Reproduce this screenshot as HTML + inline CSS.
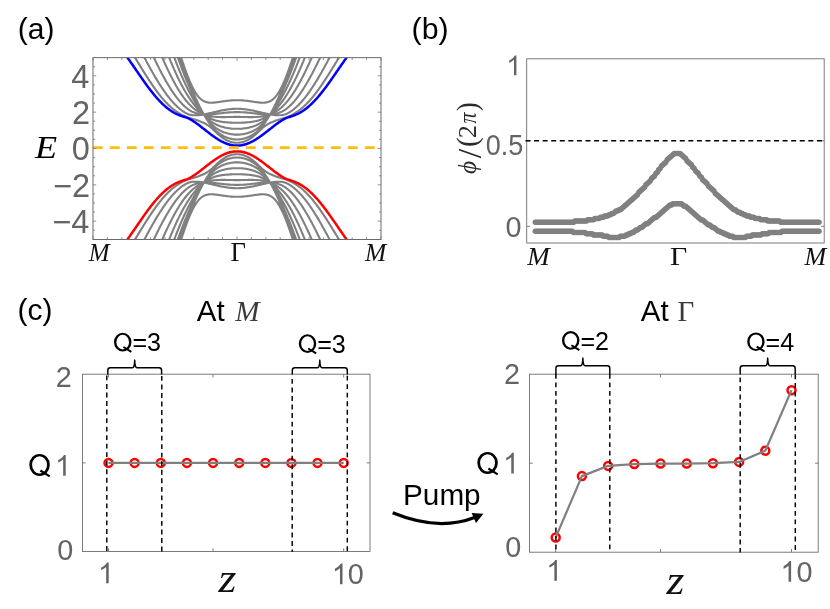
<!DOCTYPE html>
<html><head><meta charset="utf-8"><title>Figure</title>
<style>html,body{margin:0;padding:0;background:#fff;}svg{display:block;will-change:transform;}</style>
</head><body>
<svg width="830" height="609" viewBox="0 0 830 609">
<rect width="830" height="609" fill="#fff"/>
<defs><clipPath id="ca"><rect x="93.0" y="57.65" width="288.0" height="181.85"/></clipPath></defs>
<g clip-path="url(#ca)" fill="none" stroke-linejoin="round">
<path d="M177.6,250.8 L178.2,248.9 L178.8,246.9 L179.4,245.0 L180.0,243.1 L180.6,241.2 L181.2,239.3 L181.8,237.5 L182.4,235.6 L183.0,233.9 L183.6,232.1 L184.2,230.4 L184.8,228.6 L185.4,227.0 L186.0,225.3 L186.6,223.7 L187.2,222.1 L187.8,220.6 L188.4,219.0 L189.0,217.6 L189.6,216.1 L190.2,214.7 L190.8,213.4 L191.4,212.1 L192.0,210.8 L192.6,209.6 L193.2,208.4 L193.8,207.3 L194.4,206.2 L195.0,205.2 L195.6,204.2 L196.2,203.3 L196.8,202.4 L197.4,201.6 L198.0,200.9 L198.6,200.1 L199.2,199.5 L199.8,198.8 L200.4,198.3 L201.0,197.8 L201.6,197.3 L202.2,196.8 L202.8,196.5 L203.4,196.1 L204.0,195.8 L204.6,195.5 L205.2,195.3 L205.8,195.1 L206.4,194.9 L207.0,194.7 L207.6,194.6 L208.2,194.5 L208.8,194.4 L209.4,194.4 L210.0,194.3 L210.6,194.3 L211.2,194.3 L211.8,194.3 L212.4,194.3 L213.0,194.4 L213.6,194.4 L214.2,194.4 L214.8,194.5 L215.4,194.6 L216.0,194.6 L216.6,194.7 L217.2,194.8 L217.8,194.9 L218.4,194.9 L219.0,195.0 L219.6,195.1 L220.2,195.2 L220.8,195.3 L221.4,195.4 L222.0,195.5 L222.6,195.6 L223.2,195.6 L223.8,195.7 L224.4,195.8 L225.0,195.9 L225.6,196.0 L226.2,196.1 L226.8,196.1 L227.4,196.2 L228.0,196.3 L228.6,196.3 L229.2,196.4 L229.8,196.5 L230.4,196.5 L231.0,196.6 L231.6,196.6 L232.2,196.6 L232.8,196.7 L233.4,196.7 L234.0,196.7 L234.6,196.8 L235.2,196.8 L235.8,196.8 L236.4,196.8 L237.0,196.8 L237.6,196.8 L238.2,196.8 L238.8,196.8 L239.4,196.8 L240.0,196.7 L240.6,196.7 L241.2,196.7 L241.8,196.6 L242.4,196.6 L243.0,196.6 L243.6,196.5 L244.2,196.5 L244.8,196.4 L245.4,196.3 L246.0,196.3 L246.6,196.2 L247.2,196.1 L247.8,196.1 L248.4,196.0 L249.0,195.9 L249.6,195.8 L250.2,195.7 L250.8,195.6 L251.4,195.6 L252.0,195.5 L252.6,195.4 L253.2,195.3 L253.8,195.2 L254.4,195.1 L255.0,195.0 L255.6,194.9 L256.2,194.9 L256.8,194.8 L257.4,194.7 L258.0,194.6 L258.6,194.6 L259.2,194.5 L259.8,194.4 L260.4,194.4 L261.0,194.4 L261.6,194.3 L262.2,194.3 L262.8,194.3 L263.4,194.3 L264.0,194.3 L264.6,194.4 L265.2,194.4 L265.8,194.5 L266.4,194.6 L267.0,194.7 L267.6,194.9 L268.2,195.1 L268.8,195.3 L269.4,195.5 L270.0,195.8 L270.6,196.1 L271.2,196.5 L271.8,196.8 L272.4,197.3 L273.0,197.8 L273.6,198.3 L274.2,198.8 L274.8,199.5 L275.4,200.1 L276.0,200.9 L276.6,201.6 L277.2,202.4 L277.8,203.3 L278.4,204.2 L279.0,205.2 L279.6,206.2 L280.2,207.3 L280.8,208.4 L281.4,209.6 L282.0,210.8 L282.6,212.1 L283.2,213.4 L283.8,214.7 L284.4,216.1 L285.0,217.6 L285.6,219.0 L286.2,220.6 L286.8,222.1 L287.4,223.7 L288.0,225.3 L288.6,227.0 L289.2,228.6 L289.8,230.4 L290.4,232.1 L291.0,233.9 L291.6,235.6 L292.2,237.5 L292.8,239.3 L293.4,241.2 L294.0,243.1 L294.6,245.0 L295.2,246.9 L295.8,248.9 L296.4,250.8M176.4,250.9 L177.0,249.0 L177.6,247.1 L178.2,245.2 L178.8,243.4 L179.4,241.6 L180.0,239.7 L180.6,238.0 L181.2,236.2 L181.8,234.4 L182.4,232.7 L183.0,231.0 L183.6,229.3 L184.2,227.6 L184.8,226.0 L185.4,224.3 L186.0,222.7 L186.6,221.1 L187.2,219.5 L187.8,218.0 L188.4,216.4 L189.0,214.9 L189.6,213.4 L190.2,211.9 L190.8,210.4 L191.4,208.9 L192.0,207.5 L192.6,206.0 L193.2,204.6 L193.8,203.2 L194.4,201.8 L195.0,200.5 L195.6,199.1 L196.2,197.8 L196.8,196.5 L197.4,195.2 L198.0,193.9 L198.6,192.7 L199.2,191.4 L199.8,190.2 L200.4,189.0 L201.0,187.9 L201.6,186.7 L202.2,185.6 L202.8,184.5 L203.4,183.4 L204.0,182.6 L204.6,182.7 L205.2,182.8 L205.8,182.9 L206.4,183.1 L207.0,183.2 L207.6,183.3 L208.2,183.5 L208.8,183.6 L209.4,183.7 L210.0,183.9 L210.6,184.0 L211.2,184.1 L211.8,184.3 L212.4,184.4 L213.0,184.6 L213.6,184.7 L214.2,184.9 L214.8,185.0 L215.4,185.1 L216.0,185.3 L216.6,185.4 L217.2,185.6 L217.8,185.7 L218.4,185.8 L219.0,186.0 L219.6,186.1 L220.2,186.2 L220.8,186.4 L221.4,186.5 L222.0,186.6 L222.6,186.7 L223.2,186.8 L223.8,186.9 L224.4,187.0 L225.0,187.1 L225.6,187.2 L226.2,187.3 L226.8,187.4 L227.4,187.5 L228.0,187.6 L228.6,187.7 L229.2,187.7 L229.8,187.8 L230.4,187.9 L231.0,187.9 L231.6,188.0 L232.2,188.0 L232.8,188.1 L233.4,188.1 L234.0,188.1 L234.6,188.1 L235.2,188.2 L235.8,188.2 L236.4,188.2 L237.0,188.2 L237.6,188.2 L238.2,188.2 L238.8,188.2 L239.4,188.1 L240.0,188.1 L240.6,188.1 L241.2,188.1 L241.8,188.0 L242.4,188.0 L243.0,187.9 L243.6,187.9 L244.2,187.8 L244.8,187.7 L245.4,187.7 L246.0,187.6 L246.6,187.5 L247.2,187.4 L247.8,187.3 L248.4,187.2 L249.0,187.1 L249.6,187.0 L250.2,186.9 L250.8,186.8 L251.4,186.7 L252.0,186.6 L252.6,186.5 L253.2,186.4 L253.8,186.2 L254.4,186.1 L255.0,186.0 L255.6,185.8 L256.2,185.7 L256.8,185.6 L257.4,185.4 L258.0,185.3 L258.6,185.1 L259.2,185.0 L259.8,184.9 L260.4,184.7 L261.0,184.6 L261.6,184.4 L262.2,184.3 L262.8,184.1 L263.4,184.0 L264.0,183.9 L264.6,183.7 L265.2,183.6 L265.8,183.5 L266.4,183.3 L267.0,183.2 L267.6,183.1 L268.2,182.9 L268.8,182.8 L269.4,182.7 L270.0,182.6 L270.6,183.4 L271.2,184.5 L271.8,185.6 L272.4,186.7 L273.0,187.9 L273.6,189.0 L274.2,190.2 L274.8,191.4 L275.4,192.7 L276.0,193.9 L276.6,195.2 L277.2,196.5 L277.8,197.8 L278.4,199.1 L279.0,200.5 L279.6,201.8 L280.2,203.2 L280.8,204.6 L281.4,206.0 L282.0,207.5 L282.6,208.9 L283.2,210.4 L283.8,211.9 L284.4,213.4 L285.0,214.9 L285.6,216.4 L286.2,218.0 L286.8,219.5 L287.4,221.1 L288.0,222.7 L288.6,224.3 L289.2,226.0 L289.8,227.6 L290.4,229.3 L291.0,231.0 L291.6,232.7 L292.2,234.4 L292.8,236.2 L293.4,238.0 L294.0,239.7 L294.6,241.6 L295.2,243.4 L295.8,245.2 L296.4,247.1 L297.0,249.0 L297.6,250.9M174.0,250.9 L174.6,249.1 L175.2,247.3 L175.8,245.5 L176.4,243.7 L177.0,242.0 L177.6,240.3 L178.2,238.6 L178.8,236.9 L179.4,235.2 L180.0,233.5 L180.6,231.9 L181.2,230.3 L181.8,228.7 L182.4,227.1 L183.0,225.6 L183.6,224.0 L184.2,222.5 L184.8,221.0 L185.4,219.5 L186.0,218.1 L186.6,216.6 L187.2,215.2 L187.8,213.8 L188.4,212.4 L189.0,211.0 L189.6,209.7 L190.2,208.3 L190.8,207.0 L191.4,205.7 L192.0,204.4 L192.6,203.2 L193.2,201.9 L193.8,200.7 L194.4,199.5 L195.0,198.3 L195.6,197.1 L196.2,195.9 L196.8,194.8 L197.4,193.6 L198.0,192.5 L198.6,191.4 L199.2,190.3 L199.8,189.3 L200.4,188.2 L201.0,187.2 L201.6,186.2 L202.2,185.2 L202.8,184.2 L203.4,183.3 L204.0,182.6 L204.6,182.5 L205.2,182.5 L205.8,182.5 L206.4,182.5 L207.0,182.5 L207.6,182.5 L208.2,182.6 L208.8,182.6 L209.4,182.6 L210.0,182.7 L210.6,182.7 L211.2,182.7 L211.8,182.8 L212.4,182.8 L213.0,182.9 L213.6,183.0 L214.2,183.0 L214.8,183.1 L215.4,183.1 L216.0,183.2 L216.6,183.3 L217.2,183.3 L217.8,183.4 L218.4,183.5 L219.0,183.6 L219.6,183.6 L220.2,183.7 L220.8,183.8 L221.4,183.8 L222.0,183.9 L222.6,184.0 L223.2,184.0 L223.8,184.1 L224.4,184.2 L225.0,184.2 L225.6,184.3 L226.2,184.4 L226.8,184.4 L227.4,184.5 L228.0,184.5 L228.6,184.6 L229.2,184.6 L229.8,184.6 L230.4,184.7 L231.0,184.7 L231.6,184.8 L232.2,184.8 L232.8,184.8 L233.4,184.8 L234.0,184.9 L234.6,184.9 L235.2,184.9 L235.8,184.9 L236.4,184.9 L237.0,184.9 L237.6,184.9 L238.2,184.9 L238.8,184.9 L239.4,184.9 L240.0,184.9 L240.6,184.8 L241.2,184.8 L241.8,184.8 L242.4,184.8 L243.0,184.7 L243.6,184.7 L244.2,184.6 L244.8,184.6 L245.4,184.6 L246.0,184.5 L246.6,184.5 L247.2,184.4 L247.8,184.4 L248.4,184.3 L249.0,184.2 L249.6,184.2 L250.2,184.1 L250.8,184.0 L251.4,184.0 L252.0,183.9 L252.6,183.8 L253.2,183.8 L253.8,183.7 L254.4,183.6 L255.0,183.6 L255.6,183.5 L256.2,183.4 L256.8,183.3 L257.4,183.3 L258.0,183.2 L258.6,183.1 L259.2,183.1 L259.8,183.0 L260.4,183.0 L261.0,182.9 L261.6,182.8 L262.2,182.8 L262.8,182.7 L263.4,182.7 L264.0,182.7 L264.6,182.6 L265.2,182.6 L265.8,182.6 L266.4,182.5 L267.0,182.5 L267.6,182.5 L268.2,182.5 L268.8,182.5 L269.4,182.5 L270.0,182.6 L270.6,183.3 L271.2,184.2 L271.8,185.2 L272.4,186.2 L273.0,187.2 L273.6,188.2 L274.2,189.3 L274.8,190.3 L275.4,191.4 L276.0,192.5 L276.6,193.6 L277.2,194.8 L277.8,195.9 L278.4,197.1 L279.0,198.3 L279.6,199.5 L280.2,200.7 L280.8,201.9 L281.4,203.2 L282.0,204.4 L282.6,205.7 L283.2,207.0 L283.8,208.3 L284.4,209.7 L285.0,211.0 L285.6,212.4 L286.2,213.8 L286.8,215.2 L287.4,216.6 L288.0,218.1 L288.6,219.5 L289.2,221.0 L289.8,222.5 L290.4,224.0 L291.0,225.6 L291.6,227.1 L292.2,228.7 L292.8,230.3 L293.4,231.9 L294.0,233.5 L294.6,235.2 L295.2,236.9 L295.8,238.6 L296.4,240.3 L297.0,242.0 L297.6,243.7 L298.2,245.5 L298.8,247.3 L299.4,249.1 L300.0,250.9M170.4,250.3 L171.0,248.6 L171.6,246.9 L172.2,245.2 L172.8,243.5 L173.4,241.9 L174.0,240.3 L174.6,238.7 L175.2,237.1 L175.8,235.5 L176.4,234.0 L177.0,232.4 L177.6,230.9 L178.2,229.4 L178.8,228.0 L179.4,226.5 L180.0,225.0 L180.6,223.6 L181.2,222.2 L181.8,220.8 L182.4,219.5 L183.0,218.1 L183.6,216.8 L184.2,215.5 L184.8,214.2 L185.4,212.9 L186.0,211.7 L186.6,210.4 L187.2,209.2 L187.8,208.0 L188.4,206.8 L189.0,205.7 L189.6,204.5 L190.2,203.4 L190.8,202.3 L191.4,201.2 L192.0,200.2 L192.6,199.1 L193.2,198.1 L193.8,197.1 L194.4,196.1 L195.0,195.1 L195.6,194.1 L196.2,193.2 L196.8,192.2 L197.4,191.3 L198.0,190.4 L198.6,189.6 L199.2,188.7 L199.8,187.8 L200.4,187.0 L201.0,186.2 L201.6,185.4 L202.2,184.6 L202.8,183.9 L203.4,183.1 L204.0,182.5 L204.6,182.3 L205.2,182.1 L205.8,181.9 L206.4,181.7 L207.0,181.5 L207.6,181.4 L208.2,181.2 L208.8,181.1 L209.4,181.0 L210.0,180.8 L210.6,180.7 L211.2,180.6 L211.8,180.5 L212.4,180.5 L213.0,180.4 L213.6,180.3 L214.2,180.3 L214.8,180.2 L215.4,180.2 L216.0,180.1 L216.6,180.1 L217.2,180.0 L217.8,180.0 L218.4,180.0 L219.0,180.0 L219.6,180.0 L220.2,180.0 L220.8,179.9 L221.4,179.9 L222.0,179.9 L222.6,179.9 L223.2,179.9 L223.8,179.9 L224.4,179.9 L225.0,179.9 L225.6,179.9 L226.2,180.0 L226.8,180.0 L227.4,180.0 L228.0,180.0 L228.6,180.0 L229.2,180.0 L229.8,180.0 L230.4,180.0 L231.0,180.0 L231.6,180.0 L232.2,180.0 L232.8,180.0 L233.4,180.0 L234.0,180.1 L234.6,180.1 L235.2,180.1 L235.8,180.1 L236.4,180.1 L237.0,180.1 L237.6,180.1 L238.2,180.1 L238.8,180.1 L239.4,180.1 L240.0,180.1 L240.6,180.0 L241.2,180.0 L241.8,180.0 L242.4,180.0 L243.0,180.0 L243.6,180.0 L244.2,180.0 L244.8,180.0 L245.4,180.0 L246.0,180.0 L246.6,180.0 L247.2,180.0 L247.8,180.0 L248.4,179.9 L249.0,179.9 L249.6,179.9 L250.2,179.9 L250.8,179.9 L251.4,179.9 L252.0,179.9 L252.6,179.9 L253.2,179.9 L253.8,180.0 L254.4,180.0 L255.0,180.0 L255.6,180.0 L256.2,180.0 L256.8,180.0 L257.4,180.1 L258.0,180.1 L258.6,180.2 L259.2,180.2 L259.8,180.3 L260.4,180.3 L261.0,180.4 L261.6,180.5 L262.2,180.5 L262.8,180.6 L263.4,180.7 L264.0,180.8 L264.6,181.0 L265.2,181.1 L265.8,181.2 L266.4,181.4 L267.0,181.5 L267.6,181.7 L268.2,181.9 L268.8,182.1 L269.4,182.3 L270.0,182.5 L270.6,183.1 L271.2,183.9 L271.8,184.6 L272.4,185.4 L273.0,186.2 L273.6,187.0 L274.2,187.8 L274.8,188.7 L275.4,189.6 L276.0,190.4 L276.6,191.3 L277.2,192.2 L277.8,193.2 L278.4,194.1 L279.0,195.1 L279.6,196.1 L280.2,197.1 L280.8,198.1 L281.4,199.1 L282.0,200.2 L282.6,201.2 L283.2,202.3 L283.8,203.4 L284.4,204.5 L285.0,205.7 L285.6,206.8 L286.2,208.0 L286.8,209.2 L287.4,210.4 L288.0,211.7 L288.6,212.9 L289.2,214.2 L289.8,215.5 L290.4,216.8 L291.0,218.1 L291.6,219.5 L292.2,220.8 L292.8,222.2 L293.4,223.6 L294.0,225.0 L294.6,226.5 L295.2,228.0 L295.8,229.4 L296.4,230.9 L297.0,232.4 L297.6,234.0 L298.2,235.5 L298.8,237.1 L299.4,238.7 L300.0,240.3 L300.6,241.9 L301.2,243.5 L301.8,245.2 L302.4,246.9 L303.0,248.6 L303.6,250.3M165.0,250.1 L165.6,248.5 L166.2,246.9 L166.8,245.4 L167.4,243.8 L168.0,242.3 L168.6,240.8 L169.2,239.3 L169.8,237.8 L170.4,236.4 L171.0,234.9 L171.6,233.5 L172.2,232.1 L172.8,230.7 L173.4,229.3 L174.0,227.9 L174.6,226.6 L175.2,225.2 L175.8,223.9 L176.4,222.6 L177.0,221.3 L177.6,220.0 L178.2,218.8 L178.8,217.6 L179.4,216.3 L180.0,215.1 L180.6,214.0 L181.2,212.8 L181.8,211.7 L182.4,210.5 L183.0,209.4 L183.6,208.4 L184.2,207.3 L184.8,206.2 L185.4,205.2 L186.0,204.2 L186.6,203.2 L187.2,202.2 L187.8,201.3 L188.4,200.4 L189.0,199.4 L189.6,198.6 L190.2,197.7 L190.8,196.8 L191.4,196.0 L192.0,195.2 L192.6,194.4 L193.2,193.6 L193.8,192.8 L194.4,192.1 L195.0,191.4 L195.6,190.7 L196.2,190.0 L196.8,189.3 L197.4,188.6 L198.0,188.0 L198.6,187.4 L199.2,186.8 L199.8,186.2 L200.4,185.6 L201.0,185.0 L201.6,184.5 L202.2,184.0 L202.8,183.4 L203.4,182.9 L204.0,182.5 L204.6,182.0 L205.2,181.6 L205.8,181.1 L206.4,180.7 L207.0,180.3 L207.6,180.0 L208.2,179.6 L208.8,179.3 L209.4,179.0 L210.0,178.7 L210.6,178.4 L211.2,178.1 L211.8,177.9 L212.4,177.6 L213.0,177.4 L213.6,177.2 L214.2,177.0 L214.8,176.8 L215.4,176.6 L216.0,176.4 L216.6,176.3 L217.2,176.1 L217.8,176.0 L218.4,175.8 L219.0,175.7 L219.6,175.6 L220.2,175.5 L220.8,175.4 L221.4,175.3 L222.0,175.2 L222.6,175.1 L223.2,175.0 L223.8,174.9 L224.4,174.9 L225.0,174.8 L225.6,174.8 L226.2,174.7 L226.8,174.6 L227.4,174.6 L228.0,174.6 L228.6,174.5 L229.2,174.5 L229.8,174.4 L230.4,174.4 L231.0,174.4 L231.6,174.4 L232.2,174.3 L232.8,174.3 L233.4,174.3 L234.0,174.3 L234.6,174.3 L235.2,174.3 L235.8,174.3 L236.4,174.3 L237.0,174.3 L237.6,174.3 L238.2,174.3 L238.8,174.3 L239.4,174.3 L240.0,174.3 L240.6,174.3 L241.2,174.3 L241.8,174.3 L242.4,174.4 L243.0,174.4 L243.6,174.4 L244.2,174.4 L244.8,174.5 L245.4,174.5 L246.0,174.6 L246.6,174.6 L247.2,174.6 L247.8,174.7 L248.4,174.8 L249.0,174.8 L249.6,174.9 L250.2,174.9 L250.8,175.0 L251.4,175.1 L252.0,175.2 L252.6,175.3 L253.2,175.4 L253.8,175.5 L254.4,175.6 L255.0,175.7 L255.6,175.8 L256.2,176.0 L256.8,176.1 L257.4,176.3 L258.0,176.4 L258.6,176.6 L259.2,176.8 L259.8,177.0 L260.4,177.2 L261.0,177.4 L261.6,177.6 L262.2,177.9 L262.8,178.1 L263.4,178.4 L264.0,178.7 L264.6,179.0 L265.2,179.3 L265.8,179.6 L266.4,180.0 L267.0,180.3 L267.6,180.7 L268.2,181.1 L268.8,181.6 L269.4,182.0 L270.0,182.5 L270.6,182.9 L271.2,183.4 L271.8,184.0 L272.4,184.5 L273.0,185.0 L273.6,185.6 L274.2,186.2 L274.8,186.8 L275.4,187.4 L276.0,188.0 L276.6,188.6 L277.2,189.3 L277.8,190.0 L278.4,190.7 L279.0,191.4 L279.6,192.1 L280.2,192.8 L280.8,193.6 L281.4,194.4 L282.0,195.2 L282.6,196.0 L283.2,196.8 L283.8,197.7 L284.4,198.6 L285.0,199.4 L285.6,200.4 L286.2,201.3 L286.8,202.2 L287.4,203.2 L288.0,204.2 L288.6,205.2 L289.2,206.2 L289.8,207.3 L290.4,208.4 L291.0,209.4 L291.6,210.5 L292.2,211.7 L292.8,212.8 L293.4,214.0 L294.0,215.1 L294.6,216.3 L295.2,217.6 L295.8,218.8 L296.4,220.0 L297.0,221.3 L297.6,222.6 L298.2,223.9 L298.8,225.2 L299.4,226.6 L300.0,227.9 L300.6,229.3 L301.2,230.7 L301.8,232.1 L302.4,233.5 L303.0,234.9 L303.6,236.4 L304.2,237.8 L304.8,239.3 L305.4,240.8 L306.0,242.3 L306.6,243.8 L307.2,245.4 L307.8,246.9 L308.4,248.5 L309.0,250.1M157.2,251.5 L157.8,250.0 L158.4,248.6 L159.0,247.1 L159.6,245.7 L160.2,244.3 L160.8,242.9 L161.4,241.5 L162.0,240.1 L162.6,238.7 L163.2,237.3 L163.8,236.0 L164.4,234.6 L165.0,233.3 L165.6,232.0 L166.2,230.7 L166.8,229.4 L167.4,228.1 L168.0,226.9 L168.6,225.6 L169.2,224.4 L169.8,223.2 L170.4,222.0 L171.0,220.8 L171.6,219.6 L172.2,218.4 L172.8,217.3 L173.4,216.2 L174.0,215.1 L174.6,214.0 L175.2,212.9 L175.8,211.8 L176.4,210.8 L177.0,209.8 L177.6,208.7 L178.2,207.8 L178.8,206.8 L179.4,205.8 L180.0,204.9 L180.6,204.0 L181.2,203.1 L181.8,202.2 L182.4,201.3 L183.0,200.5 L183.6,199.6 L184.2,198.8 L184.8,198.0 L185.4,197.3 L186.0,196.5 L186.6,195.8 L187.2,195.1 L187.8,194.4 L188.4,193.7 L189.0,193.0 L189.6,192.4 L190.2,191.8 L190.8,191.2 L191.4,190.6 L192.0,190.1 L192.6,189.5 L193.2,189.0 L193.8,188.5 L194.4,188.0 L195.0,187.6 L195.6,187.1 L196.2,186.7 L196.8,186.3 L197.4,185.9 L198.0,185.5 L198.6,185.1 L199.2,184.8 L199.8,184.5 L200.4,184.1 L201.0,183.8 L201.6,183.5 L202.2,183.3 L202.8,183.0 L203.4,182.8 L204.0,182.4 L204.6,181.7 L205.2,181.0 L205.8,180.4 L206.4,179.8 L207.0,179.1 L207.6,178.6 L208.2,178.0 L208.8,177.4 L209.4,176.9 L210.0,176.4 L210.6,176.0 L211.2,175.5 L211.8,175.1 L212.4,174.7 L213.0,174.3 L213.6,173.9 L214.2,173.5 L214.8,173.2 L215.4,172.9 L216.0,172.6 L216.6,172.3 L217.2,172.0 L217.8,171.7 L218.4,171.5 L219.0,171.2 L219.6,171.0 L220.2,170.8 L220.8,170.6 L221.4,170.4 L222.0,170.2 L222.6,170.0 L223.2,169.9 L223.8,169.7 L224.4,169.6 L225.0,169.4 L225.6,169.3 L226.2,169.2 L226.8,169.0 L227.4,168.9 L228.0,168.8 L228.6,168.8 L229.2,168.7 L229.8,168.6 L230.4,168.5 L231.0,168.5 L231.6,168.4 L232.2,168.3 L232.8,168.3 L233.4,168.3 L234.0,168.2 L234.6,168.2 L235.2,168.2 L235.8,168.2 L236.4,168.2 L237.0,168.2 L237.6,168.2 L238.2,168.2 L238.8,168.2 L239.4,168.2 L240.0,168.2 L240.6,168.3 L241.2,168.3 L241.8,168.3 L242.4,168.4 L243.0,168.5 L243.6,168.5 L244.2,168.6 L244.8,168.7 L245.4,168.8 L246.0,168.8 L246.6,168.9 L247.2,169.0 L247.8,169.2 L248.4,169.3 L249.0,169.4 L249.6,169.6 L250.2,169.7 L250.8,169.9 L251.4,170.0 L252.0,170.2 L252.6,170.4 L253.2,170.6 L253.8,170.8 L254.4,171.0 L255.0,171.2 L255.6,171.5 L256.2,171.7 L256.8,172.0 L257.4,172.3 L258.0,172.6 L258.6,172.9 L259.2,173.2 L259.8,173.5 L260.4,173.9 L261.0,174.3 L261.6,174.7 L262.2,175.1 L262.8,175.5 L263.4,176.0 L264.0,176.4 L264.6,176.9 L265.2,177.4 L265.8,178.0 L266.4,178.6 L267.0,179.1 L267.6,179.8 L268.2,180.4 L268.8,181.0 L269.4,181.7 L270.0,182.4 L270.6,182.8 L271.2,183.0 L271.8,183.3 L272.4,183.5 L273.0,183.8 L273.6,184.1 L274.2,184.5 L274.8,184.8 L275.4,185.1 L276.0,185.5 L276.6,185.9 L277.2,186.3 L277.8,186.7 L278.4,187.1 L279.0,187.6 L279.6,188.0 L280.2,188.5 L280.8,189.0 L281.4,189.5 L282.0,190.1 L282.6,190.6 L283.2,191.2 L283.8,191.8 L284.4,192.4 L285.0,193.0 L285.6,193.7 L286.2,194.4 L286.8,195.1 L287.4,195.8 L288.0,196.5 L288.6,197.3 L289.2,198.0 L289.8,198.8 L290.4,199.6 L291.0,200.5 L291.6,201.3 L292.2,202.2 L292.8,203.1 L293.4,204.0 L294.0,204.9 L294.6,205.8 L295.2,206.8 L295.8,207.8 L296.4,208.7 L297.0,209.8 L297.6,210.8 L298.2,211.8 L298.8,212.9 L299.4,214.0 L300.0,215.1 L300.6,216.2 L301.2,217.3 L301.8,218.4 L302.4,219.6 L303.0,220.8 L303.6,222.0 L304.2,223.2 L304.8,224.4 L305.4,225.6 L306.0,226.9 L306.6,228.1 L307.2,229.4 L307.8,230.7 L308.4,232.0 L309.0,233.3 L309.6,234.6 L310.2,236.0 L310.8,237.3 L311.4,238.7 L312.0,240.1 L312.6,241.5 L313.2,242.9 L313.8,244.3 L314.4,245.7 L315.0,247.1 L315.6,248.6 L316.2,250.0 L316.8,251.5M148.8,250.3 L149.4,249.0 L150.0,247.7 L150.6,246.4 L151.2,245.1 L151.8,243.8 L152.4,242.5 L153.0,241.2 L153.6,240.0 L154.2,238.7 L154.8,237.5 L155.4,236.2 L156.0,235.0 L156.6,233.7 L157.2,232.5 L157.8,231.3 L158.4,230.1 L159.0,228.9 L159.6,227.7 L160.2,226.6 L160.8,225.4 L161.4,224.3 L162.0,223.1 L162.6,222.0 L163.2,220.9 L163.8,219.8 L164.4,218.7 L165.0,217.6 L165.6,216.6 L166.2,215.5 L166.8,214.5 L167.4,213.5 L168.0,212.5 L168.6,211.5 L169.2,210.5 L169.8,209.5 L170.4,208.6 L171.0,207.6 L171.6,206.7 L172.2,205.8 L172.8,204.9 L173.4,204.0 L174.0,203.2 L174.6,202.3 L175.2,201.5 L175.8,200.7 L176.4,199.9 L177.0,199.1 L177.6,198.3 L178.2,197.6 L178.8,196.9 L179.4,196.1 L180.0,195.4 L180.6,194.8 L181.2,194.1 L181.8,193.5 L182.4,192.8 L183.0,192.2 L183.6,191.6 L184.2,191.1 L184.8,190.5 L185.4,190.0 L186.0,189.5 L186.6,189.0 L187.2,188.5 L187.8,188.0 L188.4,187.6 L189.0,187.2 L189.6,186.8 L190.2,186.4 L190.8,186.1 L191.4,185.7 L192.0,185.4 L192.6,185.1 L193.2,184.9 L193.8,184.6 L194.4,184.4 L195.0,184.2 L195.6,184.0 L196.2,183.8 L196.8,183.6 L197.4,183.4 L198.0,183.3 L198.6,183.2 L199.2,183.1 L199.8,183.0 L200.4,182.9 L201.0,182.8 L201.6,182.7 L202.2,182.7 L202.8,182.6 L203.4,182.6 L204.0,182.4 L204.6,181.5 L205.2,180.6 L205.8,179.7 L206.4,178.9 L207.0,178.1 L207.6,177.3 L208.2,176.5 L208.8,175.8 L209.4,175.1 L210.0,174.4 L210.6,173.8 L211.2,173.1 L211.8,172.5 L212.4,172.0 L213.0,171.4 L213.6,170.9 L214.2,170.4 L214.8,169.9 L215.4,169.5 L216.0,169.0 L216.6,168.6 L217.2,168.2 L217.8,167.8 L218.4,167.5 L219.0,167.1 L219.6,166.8 L220.2,166.4 L220.8,166.1 L221.4,165.8 L222.0,165.6 L222.6,165.3 L223.2,165.0 L223.8,164.8 L224.4,164.6 L225.0,164.4 L225.6,164.2 L226.2,164.0 L226.8,163.8 L227.4,163.6 L228.0,163.5 L228.6,163.3 L229.2,163.2 L229.8,163.1 L230.4,162.9 L231.0,162.8 L231.6,162.8 L232.2,162.7 L232.8,162.6 L233.4,162.5 L234.0,162.5 L234.6,162.4 L235.2,162.4 L235.8,162.4 L236.4,162.4 L237.0,162.4 L237.6,162.4 L238.2,162.4 L238.8,162.4 L239.4,162.4 L240.0,162.5 L240.6,162.5 L241.2,162.6 L241.8,162.7 L242.4,162.8 L243.0,162.8 L243.6,162.9 L244.2,163.1 L244.8,163.2 L245.4,163.3 L246.0,163.5 L246.6,163.6 L247.2,163.8 L247.8,164.0 L248.4,164.2 L249.0,164.4 L249.6,164.6 L250.2,164.8 L250.8,165.0 L251.4,165.3 L252.0,165.6 L252.6,165.8 L253.2,166.1 L253.8,166.4 L254.4,166.8 L255.0,167.1 L255.6,167.5 L256.2,167.8 L256.8,168.2 L257.4,168.6 L258.0,169.0 L258.6,169.5 L259.2,169.9 L259.8,170.4 L260.4,170.9 L261.0,171.4 L261.6,172.0 L262.2,172.5 L262.8,173.1 L263.4,173.8 L264.0,174.4 L264.6,175.1 L265.2,175.8 L265.8,176.5 L266.4,177.3 L267.0,178.1 L267.6,178.9 L268.2,179.7 L268.8,180.6 L269.4,181.5 L270.0,182.4 L270.6,182.6 L271.2,182.6 L271.8,182.7 L272.4,182.7 L273.0,182.8 L273.6,182.9 L274.2,183.0 L274.8,183.1 L275.4,183.2 L276.0,183.3 L276.6,183.4 L277.2,183.6 L277.8,183.8 L278.4,184.0 L279.0,184.2 L279.6,184.4 L280.2,184.6 L280.8,184.9 L281.4,185.1 L282.0,185.4 L282.6,185.7 L283.2,186.1 L283.8,186.4 L284.4,186.8 L285.0,187.2 L285.6,187.6 L286.2,188.0 L286.8,188.5 L287.4,189.0 L288.0,189.5 L288.6,190.0 L289.2,190.5 L289.8,191.1 L290.4,191.6 L291.0,192.2 L291.6,192.8 L292.2,193.5 L292.8,194.1 L293.4,194.8 L294.0,195.4 L294.6,196.1 L295.2,196.9 L295.8,197.6 L296.4,198.3 L297.0,199.1 L297.6,199.9 L298.2,200.7 L298.8,201.5 L299.4,202.3 L300.0,203.2 L300.6,204.0 L301.2,204.9 L301.8,205.8 L302.4,206.7 L303.0,207.6 L303.6,208.6 L304.2,209.5 L304.8,210.5 L305.4,211.5 L306.0,212.5 L306.6,213.5 L307.2,214.5 L307.8,215.5 L308.4,216.6 L309.0,217.6 L309.6,218.7 L310.2,219.8 L310.8,220.9 L311.4,222.0 L312.0,223.1 L312.6,224.3 L313.2,225.4 L313.8,226.6 L314.4,227.7 L315.0,228.9 L315.6,230.1 L316.2,231.3 L316.8,232.5 L317.4,233.7 L318.0,235.0 L318.6,236.2 L319.2,237.5 L319.8,238.7 L320.4,240.0 L321.0,241.2 L321.6,242.5 L322.2,243.8 L322.8,245.1 L323.4,246.4 L324.0,247.7 L324.6,249.0 L325.2,250.3M138.6,250.4 L139.2,249.3 L139.8,248.2 L140.4,247.0 L141.0,245.9 L141.6,244.8 L142.2,243.6 L142.8,242.5 L143.4,241.4 L144.0,240.2 L144.6,239.1 L145.2,238.0 L145.8,236.9 L146.4,235.7 L147.0,234.6 L147.6,233.5 L148.2,232.4 L148.8,231.3 L149.4,230.2 L150.0,229.1 L150.6,228.0 L151.2,227.0 L151.8,225.9 L152.4,224.8 L153.0,223.8 L153.6,222.7 L154.2,221.7 L154.8,220.7 L155.4,219.6 L156.0,218.6 L156.6,217.6 L157.2,216.6 L157.8,215.7 L158.4,214.7 L159.0,213.7 L159.6,212.8 L160.2,211.8 L160.8,210.9 L161.4,210.0 L162.0,209.1 L162.6,208.2 L163.2,207.3 L163.8,206.4 L164.4,205.6 L165.0,204.7 L165.6,203.9 L166.2,203.1 L166.8,202.2 L167.4,201.4 L168.0,200.7 L168.6,199.9 L169.2,199.1 L169.8,198.4 L170.4,197.7 L171.0,197.0 L171.6,196.2 L172.2,195.6 L172.8,194.9 L173.4,194.2 L174.0,193.6 L174.6,193.0 L175.2,192.3 L175.8,191.7 L176.4,191.2 L177.0,190.6 L177.6,190.0 L178.2,189.5 L178.8,189.0 L179.4,188.4 L180.0,187.9 L180.6,187.5 L181.2,187.0 L181.8,186.5 L182.4,186.1 L183.0,185.7 L183.6,185.3 L184.2,184.9 L184.8,184.5 L185.4,184.2 L186.0,183.9 L186.6,183.6 L187.2,183.3 L187.8,183.1 L188.4,182.8 L189.0,182.6 L189.6,182.4 L190.2,182.3 L190.8,182.1 L191.4,182.0 L192.0,181.9 L192.6,181.8 L193.2,181.8 L193.8,181.7 L194.4,181.7 L195.0,181.7 L195.6,181.7 L196.2,181.7 L196.8,181.7 L197.4,181.7 L198.0,181.8 L198.6,181.8 L199.2,181.9 L199.8,182.0 L200.4,182.0 L201.0,182.1 L201.6,182.2 L202.2,182.3 L202.8,182.4 L203.4,182.5 L204.0,182.3 L204.6,181.3 L205.2,180.3 L205.8,179.3 L206.4,178.3 L207.0,177.4 L207.6,176.5 L208.2,175.6 L208.8,174.7 L209.4,173.8 L210.0,173.0 L210.6,172.2 L211.2,171.4 L211.8,170.7 L212.4,170.0 L213.0,169.3 L213.6,168.6 L214.2,168.0 L214.8,167.4 L215.4,166.8 L216.0,166.3 L216.6,165.8 L217.2,165.3 L217.8,164.8 L218.4,164.3 L219.0,163.9 L219.6,163.4 L220.2,163.0 L220.8,162.6 L221.4,162.2 L222.0,161.9 L222.6,161.5 L223.2,161.2 L223.8,160.8 L224.4,160.5 L225.0,160.3 L225.6,160.0 L226.2,159.7 L226.8,159.5 L227.4,159.2 L228.0,159.0 L228.6,158.8 L229.2,158.7 L229.8,158.5 L230.4,158.3 L231.0,158.2 L231.6,158.1 L232.2,157.9 L232.8,157.8 L233.4,157.8 L234.0,157.7 L234.6,157.6 L235.2,157.6 L235.8,157.5 L236.4,157.5 L237.0,157.5 L237.6,157.5 L238.2,157.5 L238.8,157.6 L239.4,157.6 L240.0,157.7 L240.6,157.8 L241.2,157.8 L241.8,157.9 L242.4,158.1 L243.0,158.2 L243.6,158.3 L244.2,158.5 L244.8,158.7 L245.4,158.8 L246.0,159.0 L246.6,159.2 L247.2,159.5 L247.8,159.7 L248.4,160.0 L249.0,160.3 L249.6,160.5 L250.2,160.8 L250.8,161.2 L251.4,161.5 L252.0,161.9 L252.6,162.2 L253.2,162.6 L253.8,163.0 L254.4,163.4 L255.0,163.9 L255.6,164.3 L256.2,164.8 L256.8,165.3 L257.4,165.8 L258.0,166.3 L258.6,166.8 L259.2,167.4 L259.8,168.0 L260.4,168.6 L261.0,169.3 L261.6,170.0 L262.2,170.7 L262.8,171.4 L263.4,172.2 L264.0,173.0 L264.6,173.8 L265.2,174.7 L265.8,175.6 L266.4,176.5 L267.0,177.4 L267.6,178.3 L268.2,179.3 L268.8,180.3 L269.4,181.3 L270.0,182.3 L270.6,182.5 L271.2,182.4 L271.8,182.3 L272.4,182.2 L273.0,182.1 L273.6,182.0 L274.2,182.0 L274.8,181.9 L275.4,181.8 L276.0,181.8 L276.6,181.7 L277.2,181.7 L277.8,181.7 L278.4,181.7 L279.0,181.7 L279.6,181.7 L280.2,181.7 L280.8,181.8 L281.4,181.8 L282.0,181.9 L282.6,182.0 L283.2,182.1 L283.8,182.3 L284.4,182.4 L285.0,182.6 L285.6,182.8 L286.2,183.1 L286.8,183.3 L287.4,183.6 L288.0,183.9 L288.6,184.2 L289.2,184.5 L289.8,184.9 L290.4,185.3 L291.0,185.7 L291.6,186.1 L292.2,186.5 L292.8,187.0 L293.4,187.5 L294.0,187.9 L294.6,188.4 L295.2,189.0 L295.8,189.5 L296.4,190.0 L297.0,190.6 L297.6,191.2 L298.2,191.7 L298.8,192.3 L299.4,193.0 L300.0,193.6 L300.6,194.2 L301.2,194.9 L301.8,195.6 L302.4,196.2 L303.0,197.0 L303.6,197.7 L304.2,198.4 L304.8,199.1 L305.4,199.9 L306.0,200.7 L306.6,201.4 L307.2,202.2 L307.8,203.1 L308.4,203.9 L309.0,204.7 L309.6,205.6 L310.2,206.4 L310.8,207.3 L311.4,208.2 L312.0,209.1 L312.6,210.0 L313.2,210.9 L313.8,211.8 L314.4,212.8 L315.0,213.7 L315.6,214.7 L316.2,215.7 L316.8,216.6 L317.4,217.6 L318.0,218.6 L318.6,219.6 L319.2,220.7 L319.8,221.7 L320.4,222.7 L321.0,223.8 L321.6,224.8 L322.2,225.9 L322.8,227.0 L323.4,228.0 L324.0,229.1 L324.6,230.2 L325.2,231.3 L325.8,232.4 L326.4,233.5 L327.0,234.6 L327.6,235.7 L328.2,236.9 L328.8,238.0 L329.4,239.1 L330.0,240.2 L330.6,241.4 L331.2,242.5 L331.8,243.6 L332.4,244.8 L333.0,245.9 L333.6,247.0 L334.2,248.2 L334.8,249.3 L335.4,250.4M127.8,250.8 L128.4,249.9 L129.0,249.0 L129.6,248.1 L130.2,247.1 L130.8,246.2 L131.4,245.2 L132.0,244.3 L132.6,243.3 L133.2,242.3 L133.8,241.4 L134.4,240.4 L135.0,239.4 L135.6,238.5 L136.2,237.5 L136.8,236.5 L137.4,235.5 L138.0,234.6 L138.6,233.6 L139.2,232.6 L139.8,231.6 L140.4,230.6 L141.0,229.7 L141.6,228.7 L142.2,227.7 L142.8,226.8 L143.4,225.8 L144.0,224.8 L144.6,223.9 L145.2,222.9 L145.8,222.0 L146.4,221.0 L147.0,220.1 L147.6,219.2 L148.2,218.2 L148.8,217.3 L149.4,216.4 L150.0,215.5 L150.6,214.6 L151.2,213.7 L151.8,212.8 L152.4,211.9 L153.0,211.0 L153.6,210.2 L154.2,209.3 L154.8,208.5 L155.4,207.6 L156.0,206.8 L156.6,206.0 L157.2,205.2 L157.8,204.4 L158.4,203.6 L159.0,202.8 L159.6,202.1 L160.2,201.3 L160.8,200.6 L161.4,199.8 L162.0,199.1 L162.6,198.4 L163.2,197.7 L163.8,197.0 L164.4,196.4 L165.0,195.7 L165.6,195.1 L166.2,194.4 L166.8,193.8 L167.4,193.2 L168.0,192.6 L168.6,192.0 L169.2,191.4 L169.8,190.9 L170.4,190.3 L171.0,189.8 L171.6,189.3 L172.2,188.8 L172.8,188.3 L173.4,187.8 L174.0,187.3 L174.6,186.9 L175.2,186.4 L175.8,186.0 L176.4,185.6 L177.0,185.2 L177.6,184.8 L178.2,184.4 L178.8,184.0 L179.4,183.6 L180.0,183.3 L180.6,182.9 L181.2,182.6 L181.8,182.3 L182.4,182.0 L183.0,181.6 L183.6,181.3 L184.2,181.0 L184.8,180.7 L185.4,180.5 L186.0,180.2 L186.6,179.9 L187.2,179.7 L187.8,179.4 L188.4,179.2 L189.0,179.1 L189.6,178.9 L190.2,178.7 L190.8,178.6 L191.4,178.4 L192.0,178.2 L192.6,178.1 L193.2,177.9 L193.8,177.7 L194.4,177.6 L195.0,177.4 L195.6,177.2 L196.2,177.0 L196.8,176.8 L197.4,176.7 L198.0,176.5 L198.6,176.3 L199.2,176.0 L199.8,175.8 L200.4,175.6 L201.0,175.3 L201.6,175.1 L202.2,174.8 L202.8,174.6 L203.4,174.3 L204.0,174.0 L204.6,173.7 L205.2,173.4 L205.8,173.0 L206.4,172.7 L207.0,172.3 L207.6,171.9 L208.2,171.5 L208.8,171.1 L209.4,170.6 L210.0,170.2 L210.6,169.7 L211.2,169.2 L211.8,168.7 L212.4,168.2 L213.0,167.6 L213.6,167.1 L214.2,166.5 L214.8,165.9 L215.4,165.3 L216.0,164.8 L216.6,164.2 L217.2,163.6 L217.8,163.1 L218.4,162.5 L219.0,162.0 L219.6,161.5 L220.2,161.0 L220.8,160.5 L221.4,160.0 L222.0,159.6 L222.6,159.2 L223.2,158.8 L223.8,158.4 L224.4,158.0 L225.0,157.6 L225.6,157.3 L226.2,157.0 L226.8,156.7 L227.4,156.4 L228.0,156.1 L228.6,155.9 L229.2,155.7 L229.8,155.4 L230.4,155.3 L231.0,155.1 L231.6,154.9 L232.2,154.8 L232.8,154.6 L233.4,154.5 L234.0,154.4 L234.6,154.4 L235.2,154.3 L235.8,154.3 L236.4,154.2 L237.0,154.2 L237.6,154.2 L238.2,154.3 L238.8,154.3 L239.4,154.4 L240.0,154.4 L240.6,154.5 L241.2,154.6 L241.8,154.8 L242.4,154.9 L243.0,155.1 L243.6,155.3 L244.2,155.4 L244.8,155.7 L245.4,155.9 L246.0,156.1 L246.6,156.4 L247.2,156.7 L247.8,157.0 L248.4,157.3 L249.0,157.6 L249.6,158.0 L250.2,158.4 L250.8,158.8 L251.4,159.2 L252.0,159.6 L252.6,160.0 L253.2,160.5 L253.8,161.0 L254.4,161.5 L255.0,162.0 L255.6,162.5 L256.2,163.1 L256.8,163.6 L257.4,164.2 L258.0,164.8 L258.6,165.3 L259.2,165.9 L259.8,166.5 L260.4,167.1 L261.0,167.6 L261.6,168.2 L262.2,168.7 L262.8,169.2 L263.4,169.7 L264.0,170.2 L264.6,170.6 L265.2,171.1 L265.8,171.5 L266.4,171.9 L267.0,172.3 L267.6,172.7 L268.2,173.0 L268.8,173.4 L269.4,173.7 L270.0,174.0 L270.6,174.3 L271.2,174.6 L271.8,174.8 L272.4,175.1 L273.0,175.3 L273.6,175.6 L274.2,175.8 L274.8,176.0 L275.4,176.3 L276.0,176.5 L276.6,176.7 L277.2,176.8 L277.8,177.0 L278.4,177.2 L279.0,177.4 L279.6,177.6 L280.2,177.7 L280.8,177.9 L281.4,178.1 L282.0,178.2 L282.6,178.4 L283.2,178.6 L283.8,178.7 L284.4,178.9 L285.0,179.1 L285.6,179.2 L286.2,179.4 L286.8,179.7 L287.4,179.9 L288.0,180.2 L288.6,180.5 L289.2,180.7 L289.8,181.0 L290.4,181.3 L291.0,181.6 L291.6,182.0 L292.2,182.3 L292.8,182.6 L293.4,182.9 L294.0,183.3 L294.6,183.6 L295.2,184.0 L295.8,184.4 L296.4,184.8 L297.0,185.2 L297.6,185.6 L298.2,186.0 L298.8,186.4 L299.4,186.9 L300.0,187.3 L300.6,187.8 L301.2,188.3 L301.8,188.8 L302.4,189.3 L303.0,189.8 L303.6,190.3 L304.2,190.9 L304.8,191.4 L305.4,192.0 L306.0,192.6 L306.6,193.2 L307.2,193.8 L307.8,194.4 L308.4,195.1 L309.0,195.7 L309.6,196.4 L310.2,197.0 L310.8,197.7 L311.4,198.4 L312.0,199.1 L312.6,199.8 L313.2,200.6 L313.8,201.3 L314.4,202.1 L315.0,202.8 L315.6,203.6 L316.2,204.4 L316.8,205.2 L317.4,206.0 L318.0,206.8 L318.6,207.6 L319.2,208.5 L319.8,209.3 L320.4,210.2 L321.0,211.0 L321.6,211.9 L322.2,212.8 L322.8,213.7 L323.4,214.6 L324.0,215.5 L324.6,216.4 L325.2,217.3 L325.8,218.2 L326.4,219.2 L327.0,220.1 L327.6,221.0 L328.2,222.0 L328.8,222.9 L329.4,223.9 L330.0,224.8 L330.6,225.8 L331.2,226.8 L331.8,227.7 L332.4,228.7 L333.0,229.7 L333.6,230.6 L334.2,231.6 L334.8,232.6 L335.4,233.6 L336.0,234.6 L336.6,235.5 L337.2,236.5 L337.8,237.5 L338.4,238.5 L339.0,239.4 L339.6,240.4 L340.2,241.4 L340.8,242.3 L341.4,243.3 L342.0,244.3 L342.6,245.2 L343.2,246.2 L343.8,247.1 L344.4,248.1 L345.0,249.0 L345.6,249.9 L346.2,250.8M127.8,46.2 L128.4,47.1 L129.0,48.0 L129.6,48.9 L130.2,49.9 L130.8,50.8 L131.4,51.8 L132.0,52.7 L132.6,53.7 L133.2,54.7 L133.8,55.6 L134.4,56.6 L135.0,57.6 L135.6,58.5 L136.2,59.5 L136.8,60.5 L137.4,61.5 L138.0,62.4 L138.6,63.4 L139.2,64.4 L139.8,65.4 L140.4,66.4 L141.0,67.3 L141.6,68.3 L142.2,69.3 L142.8,70.2 L143.4,71.2 L144.0,72.2 L144.6,73.1 L145.2,74.1 L145.8,75.0 L146.4,76.0 L147.0,76.9 L147.6,77.8 L148.2,78.8 L148.8,79.7 L149.4,80.6 L150.0,81.5 L150.6,82.4 L151.2,83.3 L151.8,84.2 L152.4,85.1 L153.0,86.0 L153.6,86.8 L154.2,87.7 L154.8,88.5 L155.4,89.4 L156.0,90.2 L156.6,91.0 L157.2,91.8 L157.8,92.6 L158.4,93.4 L159.0,94.2 L159.6,94.9 L160.2,95.7 L160.8,96.4 L161.4,97.2 L162.0,97.9 L162.6,98.6 L163.2,99.3 L163.8,100.0 L164.4,100.6 L165.0,101.3 L165.6,101.9 L166.2,102.6 L166.8,103.2 L167.4,103.8 L168.0,104.4 L168.6,105.0 L169.2,105.6 L169.8,106.1 L170.4,106.7 L171.0,107.2 L171.6,107.7 L172.2,108.2 L172.8,108.7 L173.4,109.2 L174.0,109.7 L174.6,110.1 L175.2,110.6 L175.8,111.0 L176.4,111.4 L177.0,111.8 L177.6,112.2 L178.2,112.6 L178.8,113.0 L179.4,113.4 L180.0,113.7 L180.6,114.1 L181.2,114.4 L181.8,114.7 L182.4,115.0 L183.0,115.4 L183.6,115.7 L184.2,116.0 L184.8,116.3 L185.4,116.5 L186.0,116.8 L186.6,117.1 L187.2,117.3 L187.8,117.6 L188.4,117.8 L189.0,117.9 L189.6,118.1 L190.2,118.3 L190.8,118.4 L191.4,118.6 L192.0,118.8 L192.6,118.9 L193.2,119.1 L193.8,119.3 L194.4,119.4 L195.0,119.6 L195.6,119.8 L196.2,120.0 L196.8,120.2 L197.4,120.3 L198.0,120.5 L198.6,120.7 L199.2,121.0 L199.8,121.2 L200.4,121.4 L201.0,121.7 L201.6,121.9 L202.2,122.2 L202.8,122.4 L203.4,122.7 L204.0,123.0 L204.6,123.3 L205.2,123.6 L205.8,124.0 L206.4,124.3 L207.0,124.7 L207.6,125.1 L208.2,125.5 L208.8,125.9 L209.4,126.4 L210.0,126.8 L210.6,127.3 L211.2,127.8 L211.8,128.3 L212.4,128.8 L213.0,129.4 L213.6,129.9 L214.2,130.5 L214.8,131.1 L215.4,131.7 L216.0,132.2 L216.6,132.8 L217.2,133.4 L217.8,133.9 L218.4,134.5 L219.0,135.0 L219.6,135.5 L220.2,136.0 L220.8,136.5 L221.4,137.0 L222.0,137.4 L222.6,137.8 L223.2,138.2 L223.8,138.6 L224.4,139.0 L225.0,139.4 L225.6,139.7 L226.2,140.0 L226.8,140.3 L227.4,140.6 L228.0,140.9 L228.6,141.1 L229.2,141.3 L229.8,141.6 L230.4,141.7 L231.0,141.9 L231.6,142.1 L232.2,142.2 L232.8,142.4 L233.4,142.5 L234.0,142.6 L234.6,142.6 L235.2,142.7 L235.8,142.7 L236.4,142.8 L237.0,142.8 L237.6,142.8 L238.2,142.7 L238.8,142.7 L239.4,142.6 L240.0,142.6 L240.6,142.5 L241.2,142.4 L241.8,142.2 L242.4,142.1 L243.0,141.9 L243.6,141.7 L244.2,141.6 L244.8,141.3 L245.4,141.1 L246.0,140.9 L246.6,140.6 L247.2,140.3 L247.8,140.0 L248.4,139.7 L249.0,139.4 L249.6,139.0 L250.2,138.6 L250.8,138.2 L251.4,137.8 L252.0,137.4 L252.6,137.0 L253.2,136.5 L253.8,136.0 L254.4,135.5 L255.0,135.0 L255.6,134.5 L256.2,133.9 L256.8,133.4 L257.4,132.8 L258.0,132.2 L258.6,131.7 L259.2,131.1 L259.8,130.5 L260.4,129.9 L261.0,129.4 L261.6,128.8 L262.2,128.3 L262.8,127.8 L263.4,127.3 L264.0,126.8 L264.6,126.4 L265.2,125.9 L265.8,125.5 L266.4,125.1 L267.0,124.7 L267.6,124.3 L268.2,124.0 L268.8,123.6 L269.4,123.3 L270.0,123.0 L270.6,122.7 L271.2,122.4 L271.8,122.2 L272.4,121.9 L273.0,121.7 L273.6,121.4 L274.2,121.2 L274.8,121.0 L275.4,120.7 L276.0,120.5 L276.6,120.3 L277.2,120.2 L277.8,120.0 L278.4,119.8 L279.0,119.6 L279.6,119.4 L280.2,119.3 L280.8,119.1 L281.4,118.9 L282.0,118.8 L282.6,118.6 L283.2,118.4 L283.8,118.3 L284.4,118.1 L285.0,117.9 L285.6,117.8 L286.2,117.6 L286.8,117.3 L287.4,117.1 L288.0,116.8 L288.6,116.5 L289.2,116.3 L289.8,116.0 L290.4,115.7 L291.0,115.4 L291.6,115.0 L292.2,114.7 L292.8,114.4 L293.4,114.1 L294.0,113.7 L294.6,113.4 L295.2,113.0 L295.8,112.6 L296.4,112.2 L297.0,111.8 L297.6,111.4 L298.2,111.0 L298.8,110.6 L299.4,110.1 L300.0,109.7 L300.6,109.2 L301.2,108.7 L301.8,108.2 L302.4,107.7 L303.0,107.2 L303.6,106.7 L304.2,106.1 L304.8,105.6 L305.4,105.0 L306.0,104.4 L306.6,103.8 L307.2,103.2 L307.8,102.6 L308.4,101.9 L309.0,101.3 L309.6,100.6 L310.2,100.0 L310.8,99.3 L311.4,98.6 L312.0,97.9 L312.6,97.2 L313.2,96.4 L313.8,95.7 L314.4,94.9 L315.0,94.2 L315.6,93.4 L316.2,92.6 L316.8,91.8 L317.4,91.0 L318.0,90.2 L318.6,89.4 L319.2,88.5 L319.8,87.7 L320.4,86.8 L321.0,86.0 L321.6,85.1 L322.2,84.2 L322.8,83.3 L323.4,82.4 L324.0,81.5 L324.6,80.6 L325.2,79.7 L325.8,78.8 L326.4,77.8 L327.0,76.9 L327.6,76.0 L328.2,75.0 L328.8,74.1 L329.4,73.1 L330.0,72.2 L330.6,71.2 L331.2,70.2 L331.8,69.3 L332.4,68.3 L333.0,67.3 L333.6,66.4 L334.2,65.4 L334.8,64.4 L335.4,63.4 L336.0,62.4 L336.6,61.5 L337.2,60.5 L337.8,59.5 L338.4,58.5 L339.0,57.6 L339.6,56.6 L340.2,55.6 L340.8,54.7 L341.4,53.7 L342.0,52.7 L342.6,51.8 L343.2,50.8 L343.8,49.9 L344.4,48.9 L345.0,48.0 L345.6,47.1 L346.2,46.2M138.6,46.6 L139.2,47.7 L139.8,48.8 L140.4,50.0 L141.0,51.1 L141.6,52.2 L142.2,53.4 L142.8,54.5 L143.4,55.6 L144.0,56.8 L144.6,57.9 L145.2,59.0 L145.8,60.1 L146.4,61.3 L147.0,62.4 L147.6,63.5 L148.2,64.6 L148.8,65.7 L149.4,66.8 L150.0,67.9 L150.6,69.0 L151.2,70.0 L151.8,71.1 L152.4,72.2 L153.0,73.2 L153.6,74.3 L154.2,75.3 L154.8,76.3 L155.4,77.4 L156.0,78.4 L156.6,79.4 L157.2,80.4 L157.8,81.3 L158.4,82.3 L159.0,83.3 L159.6,84.2 L160.2,85.2 L160.8,86.1 L161.4,87.0 L162.0,87.9 L162.6,88.8 L163.2,89.7 L163.8,90.6 L164.4,91.4 L165.0,92.3 L165.6,93.1 L166.2,93.9 L166.8,94.8 L167.4,95.6 L168.0,96.3 L168.6,97.1 L169.2,97.9 L169.8,98.6 L170.4,99.3 L171.0,100.0 L171.6,100.8 L172.2,101.4 L172.8,102.1 L173.4,102.8 L174.0,103.4 L174.6,104.0 L175.2,104.7 L175.8,105.3 L176.4,105.8 L177.0,106.4 L177.6,107.0 L178.2,107.5 L178.8,108.0 L179.4,108.6 L180.0,109.1 L180.6,109.5 L181.2,110.0 L181.8,110.5 L182.4,110.9 L183.0,111.3 L183.6,111.7 L184.2,112.1 L184.8,112.5 L185.4,112.8 L186.0,113.1 L186.6,113.4 L187.2,113.7 L187.8,113.9 L188.4,114.2 L189.0,114.4 L189.6,114.6 L190.2,114.7 L190.8,114.9 L191.4,115.0 L192.0,115.1 L192.6,115.2 L193.2,115.2 L193.8,115.3 L194.4,115.3 L195.0,115.3 L195.6,115.3 L196.2,115.3 L196.8,115.3 L197.4,115.3 L198.0,115.2 L198.6,115.2 L199.2,115.1 L199.8,115.0 L200.4,115.0 L201.0,114.9 L201.6,114.8 L202.2,114.7 L202.8,114.6 L203.4,114.5 L204.0,114.7 L204.6,115.7 L205.2,116.7 L205.8,117.7 L206.4,118.7 L207.0,119.6 L207.6,120.5 L208.2,121.4 L208.8,122.3 L209.4,123.2 L210.0,124.0 L210.6,124.8 L211.2,125.6 L211.8,126.3 L212.4,127.0 L213.0,127.7 L213.6,128.4 L214.2,129.0 L214.8,129.6 L215.4,130.2 L216.0,130.7 L216.6,131.2 L217.2,131.7 L217.8,132.2 L218.4,132.7 L219.0,133.1 L219.6,133.6 L220.2,134.0 L220.8,134.4 L221.4,134.8 L222.0,135.1 L222.6,135.5 L223.2,135.8 L223.8,136.2 L224.4,136.5 L225.0,136.7 L225.6,137.0 L226.2,137.3 L226.8,137.5 L227.4,137.8 L228.0,138.0 L228.6,138.2 L229.2,138.3 L229.8,138.5 L230.4,138.7 L231.0,138.8 L231.6,138.9 L232.2,139.1 L232.8,139.2 L233.4,139.2 L234.0,139.3 L234.6,139.4 L235.2,139.4 L235.8,139.5 L236.4,139.5 L237.0,139.5 L237.6,139.5 L238.2,139.5 L238.8,139.4 L239.4,139.4 L240.0,139.3 L240.6,139.2 L241.2,139.2 L241.8,139.1 L242.4,138.9 L243.0,138.8 L243.6,138.7 L244.2,138.5 L244.8,138.3 L245.4,138.2 L246.0,138.0 L246.6,137.8 L247.2,137.5 L247.8,137.3 L248.4,137.0 L249.0,136.7 L249.6,136.5 L250.2,136.2 L250.8,135.8 L251.4,135.5 L252.0,135.1 L252.6,134.8 L253.2,134.4 L253.8,134.0 L254.4,133.6 L255.0,133.1 L255.6,132.7 L256.2,132.2 L256.8,131.7 L257.4,131.2 L258.0,130.7 L258.6,130.2 L259.2,129.6 L259.8,129.0 L260.4,128.4 L261.0,127.7 L261.6,127.0 L262.2,126.3 L262.8,125.6 L263.4,124.8 L264.0,124.0 L264.6,123.2 L265.2,122.3 L265.8,121.4 L266.4,120.5 L267.0,119.6 L267.6,118.7 L268.2,117.7 L268.8,116.7 L269.4,115.7 L270.0,114.7 L270.6,114.5 L271.2,114.6 L271.8,114.7 L272.4,114.8 L273.0,114.9 L273.6,115.0 L274.2,115.0 L274.8,115.1 L275.4,115.2 L276.0,115.2 L276.6,115.3 L277.2,115.3 L277.8,115.3 L278.4,115.3 L279.0,115.3 L279.6,115.3 L280.2,115.3 L280.8,115.2 L281.4,115.2 L282.0,115.1 L282.6,115.0 L283.2,114.9 L283.8,114.7 L284.4,114.6 L285.0,114.4 L285.6,114.2 L286.2,113.9 L286.8,113.7 L287.4,113.4 L288.0,113.1 L288.6,112.8 L289.2,112.5 L289.8,112.1 L290.4,111.7 L291.0,111.3 L291.6,110.9 L292.2,110.5 L292.8,110.0 L293.4,109.5 L294.0,109.1 L294.6,108.6 L295.2,108.0 L295.8,107.5 L296.4,107.0 L297.0,106.4 L297.6,105.8 L298.2,105.3 L298.8,104.7 L299.4,104.0 L300.0,103.4 L300.6,102.8 L301.2,102.1 L301.8,101.4 L302.4,100.8 L303.0,100.0 L303.6,99.3 L304.2,98.6 L304.8,97.9 L305.4,97.1 L306.0,96.3 L306.6,95.6 L307.2,94.8 L307.8,93.9 L308.4,93.1 L309.0,92.3 L309.6,91.4 L310.2,90.6 L310.8,89.7 L311.4,88.8 L312.0,87.9 L312.6,87.0 L313.2,86.1 L313.8,85.2 L314.4,84.2 L315.0,83.3 L315.6,82.3 L316.2,81.3 L316.8,80.4 L317.4,79.4 L318.0,78.4 L318.6,77.4 L319.2,76.3 L319.8,75.3 L320.4,74.3 L321.0,73.2 L321.6,72.2 L322.2,71.1 L322.8,70.0 L323.4,69.0 L324.0,67.9 L324.6,66.8 L325.2,65.7 L325.8,64.6 L326.4,63.5 L327.0,62.4 L327.6,61.3 L328.2,60.1 L328.8,59.0 L329.4,57.9 L330.0,56.8 L330.6,55.6 L331.2,54.5 L331.8,53.4 L332.4,52.2 L333.0,51.1 L333.6,50.0 L334.2,48.8 L334.8,47.7 L335.4,46.6M148.8,46.7 L149.4,48.0 L150.0,49.3 L150.6,50.6 L151.2,51.9 L151.8,53.2 L152.4,54.5 L153.0,55.8 L153.6,57.0 L154.2,58.3 L154.8,59.5 L155.4,60.8 L156.0,62.0 L156.6,63.3 L157.2,64.5 L157.8,65.7 L158.4,66.9 L159.0,68.1 L159.6,69.3 L160.2,70.4 L160.8,71.6 L161.4,72.7 L162.0,73.9 L162.6,75.0 L163.2,76.1 L163.8,77.2 L164.4,78.3 L165.0,79.4 L165.6,80.4 L166.2,81.5 L166.8,82.5 L167.4,83.5 L168.0,84.5 L168.6,85.5 L169.2,86.5 L169.8,87.5 L170.4,88.4 L171.0,89.4 L171.6,90.3 L172.2,91.2 L172.8,92.1 L173.4,93.0 L174.0,93.8 L174.6,94.7 L175.2,95.5 L175.8,96.3 L176.4,97.1 L177.0,97.9 L177.6,98.7 L178.2,99.4 L178.8,100.1 L179.4,100.9 L180.0,101.6 L180.6,102.2 L181.2,102.9 L181.8,103.5 L182.4,104.2 L183.0,104.8 L183.6,105.4 L184.2,105.9 L184.8,106.5 L185.4,107.0 L186.0,107.5 L186.6,108.0 L187.2,108.5 L187.8,109.0 L188.4,109.4 L189.0,109.8 L189.6,110.2 L190.2,110.6 L190.8,110.9 L191.4,111.3 L192.0,111.6 L192.6,111.9 L193.2,112.1 L193.8,112.4 L194.4,112.6 L195.0,112.8 L195.6,113.0 L196.2,113.2 L196.8,113.4 L197.4,113.6 L198.0,113.7 L198.6,113.8 L199.2,113.9 L199.8,114.0 L200.4,114.1 L201.0,114.2 L201.6,114.3 L202.2,114.3 L202.8,114.4 L203.4,114.4 L204.0,114.6 L204.6,115.5 L205.2,116.4 L205.8,117.3 L206.4,118.1 L207.0,118.9 L207.6,119.7 L208.2,120.5 L208.8,121.2 L209.4,121.9 L210.0,122.6 L210.6,123.2 L211.2,123.9 L211.8,124.5 L212.4,125.0 L213.0,125.6 L213.6,126.1 L214.2,126.6 L214.8,127.1 L215.4,127.5 L216.0,128.0 L216.6,128.4 L217.2,128.8 L217.8,129.2 L218.4,129.5 L219.0,129.9 L219.6,130.2 L220.2,130.6 L220.8,130.9 L221.4,131.2 L222.0,131.4 L222.6,131.7 L223.2,132.0 L223.8,132.2 L224.4,132.4 L225.0,132.6 L225.6,132.8 L226.2,133.0 L226.8,133.2 L227.4,133.4 L228.0,133.5 L228.6,133.7 L229.2,133.8 L229.8,133.9 L230.4,134.1 L231.0,134.2 L231.6,134.2 L232.2,134.3 L232.8,134.4 L233.4,134.5 L234.0,134.5 L234.6,134.6 L235.2,134.6 L235.8,134.6 L236.4,134.6 L237.0,134.6 L237.6,134.6 L238.2,134.6 L238.8,134.6 L239.4,134.6 L240.0,134.5 L240.6,134.5 L241.2,134.4 L241.8,134.3 L242.4,134.2 L243.0,134.2 L243.6,134.1 L244.2,133.9 L244.8,133.8 L245.4,133.7 L246.0,133.5 L246.6,133.4 L247.2,133.2 L247.8,133.0 L248.4,132.8 L249.0,132.6 L249.6,132.4 L250.2,132.2 L250.8,132.0 L251.4,131.7 L252.0,131.4 L252.6,131.2 L253.2,130.9 L253.8,130.6 L254.4,130.2 L255.0,129.9 L255.6,129.5 L256.2,129.2 L256.8,128.8 L257.4,128.4 L258.0,128.0 L258.6,127.5 L259.2,127.1 L259.8,126.6 L260.4,126.1 L261.0,125.6 L261.6,125.0 L262.2,124.5 L262.8,123.9 L263.4,123.2 L264.0,122.6 L264.6,121.9 L265.2,121.2 L265.8,120.5 L266.4,119.7 L267.0,118.9 L267.6,118.1 L268.2,117.3 L268.8,116.4 L269.4,115.5 L270.0,114.6 L270.6,114.4 L271.2,114.4 L271.8,114.3 L272.4,114.3 L273.0,114.2 L273.6,114.1 L274.2,114.0 L274.8,113.9 L275.4,113.8 L276.0,113.7 L276.6,113.6 L277.2,113.4 L277.8,113.2 L278.4,113.0 L279.0,112.8 L279.6,112.6 L280.2,112.4 L280.8,112.1 L281.4,111.9 L282.0,111.6 L282.6,111.3 L283.2,110.9 L283.8,110.6 L284.4,110.2 L285.0,109.8 L285.6,109.4 L286.2,109.0 L286.8,108.5 L287.4,108.0 L288.0,107.5 L288.6,107.0 L289.2,106.5 L289.8,105.9 L290.4,105.4 L291.0,104.8 L291.6,104.2 L292.2,103.5 L292.8,102.9 L293.4,102.2 L294.0,101.6 L294.6,100.9 L295.2,100.1 L295.8,99.4 L296.4,98.7 L297.0,97.9 L297.6,97.1 L298.2,96.3 L298.8,95.5 L299.4,94.7 L300.0,93.8 L300.6,93.0 L301.2,92.1 L301.8,91.2 L302.4,90.3 L303.0,89.4 L303.6,88.4 L304.2,87.5 L304.8,86.5 L305.4,85.5 L306.0,84.5 L306.6,83.5 L307.2,82.5 L307.8,81.5 L308.4,80.4 L309.0,79.4 L309.6,78.3 L310.2,77.2 L310.8,76.1 L311.4,75.0 L312.0,73.9 L312.6,72.7 L313.2,71.6 L313.8,70.4 L314.4,69.3 L315.0,68.1 L315.6,66.9 L316.2,65.7 L316.8,64.5 L317.4,63.3 L318.0,62.0 L318.6,60.8 L319.2,59.5 L319.8,58.3 L320.4,57.0 L321.0,55.8 L321.6,54.5 L322.2,53.2 L322.8,51.9 L323.4,50.6 L324.0,49.3 L324.6,48.0 L325.2,46.7M157.8,47.0 L158.4,48.4 L159.0,49.9 L159.6,51.3 L160.2,52.7 L160.8,54.1 L161.4,55.5 L162.0,56.9 L162.6,58.3 L163.2,59.7 L163.8,61.0 L164.4,62.4 L165.0,63.7 L165.6,65.0 L166.2,66.3 L166.8,67.6 L167.4,68.9 L168.0,70.1 L168.6,71.4 L169.2,72.6 L169.8,73.8 L170.4,75.0 L171.0,76.2 L171.6,77.4 L172.2,78.6 L172.8,79.7 L173.4,80.8 L174.0,81.9 L174.6,83.0 L175.2,84.1 L175.8,85.2 L176.4,86.2 L177.0,87.2 L177.6,88.3 L178.2,89.2 L178.8,90.2 L179.4,91.2 L180.0,92.1 L180.6,93.0 L181.2,93.9 L181.8,94.8 L182.4,95.7 L183.0,96.5 L183.6,97.4 L184.2,98.2 L184.8,99.0 L185.4,99.7 L186.0,100.5 L186.6,101.2 L187.2,101.9 L187.8,102.6 L188.4,103.3 L189.0,104.0 L189.6,104.6 L190.2,105.2 L190.8,105.8 L191.4,106.4 L192.0,106.9 L192.6,107.5 L193.2,108.0 L193.8,108.5 L194.4,109.0 L195.0,109.4 L195.6,109.9 L196.2,110.3 L196.8,110.7 L197.4,111.1 L198.0,111.5 L198.6,111.9 L199.2,112.2 L199.8,112.5 L200.4,112.9 L201.0,113.2 L201.6,113.5 L202.2,113.7 L202.8,114.0 L203.4,114.2 L204.0,114.6 L204.6,115.3 L205.2,116.0 L205.8,116.6 L206.4,117.2 L207.0,117.9 L207.6,118.4 L208.2,119.0 L208.8,119.6 L209.4,120.1 L210.0,120.6 L210.6,121.0 L211.2,121.5 L211.8,121.9 L212.4,122.3 L213.0,122.7 L213.6,123.1 L214.2,123.5 L214.8,123.8 L215.4,124.1 L216.0,124.4 L216.6,124.7 L217.2,125.0 L217.8,125.3 L218.4,125.5 L219.0,125.8 L219.6,126.0 L220.2,126.2 L220.8,126.4 L221.4,126.6 L222.0,126.8 L222.6,127.0 L223.2,127.1 L223.8,127.3 L224.4,127.4 L225.0,127.6 L225.6,127.7 L226.2,127.8 L226.8,128.0 L227.4,128.1 L228.0,128.2 L228.6,128.2 L229.2,128.3 L229.8,128.4 L230.4,128.5 L231.0,128.5 L231.6,128.6 L232.2,128.7 L232.8,128.7 L233.4,128.7 L234.0,128.8 L234.6,128.8 L235.2,128.8 L235.8,128.8 L236.4,128.8 L237.0,128.8 L237.6,128.8 L238.2,128.8 L238.8,128.8 L239.4,128.8 L240.0,128.8 L240.6,128.7 L241.2,128.7 L241.8,128.7 L242.4,128.6 L243.0,128.5 L243.6,128.5 L244.2,128.4 L244.8,128.3 L245.4,128.2 L246.0,128.2 L246.6,128.1 L247.2,128.0 L247.8,127.8 L248.4,127.7 L249.0,127.6 L249.6,127.4 L250.2,127.3 L250.8,127.1 L251.4,127.0 L252.0,126.8 L252.6,126.6 L253.2,126.4 L253.8,126.2 L254.4,126.0 L255.0,125.8 L255.6,125.5 L256.2,125.3 L256.8,125.0 L257.4,124.7 L258.0,124.4 L258.6,124.1 L259.2,123.8 L259.8,123.5 L260.4,123.1 L261.0,122.7 L261.6,122.3 L262.2,121.9 L262.8,121.5 L263.4,121.0 L264.0,120.6 L264.6,120.1 L265.2,119.6 L265.8,119.0 L266.4,118.4 L267.0,117.9 L267.6,117.2 L268.2,116.6 L268.8,116.0 L269.4,115.3 L270.0,114.6 L270.6,114.2 L271.2,114.0 L271.8,113.7 L272.4,113.5 L273.0,113.2 L273.6,112.9 L274.2,112.5 L274.8,112.2 L275.4,111.9 L276.0,111.5 L276.6,111.1 L277.2,110.7 L277.8,110.3 L278.4,109.9 L279.0,109.4 L279.6,109.0 L280.2,108.5 L280.8,108.0 L281.4,107.5 L282.0,106.9 L282.6,106.4 L283.2,105.8 L283.8,105.2 L284.4,104.6 L285.0,104.0 L285.6,103.3 L286.2,102.6 L286.8,101.9 L287.4,101.2 L288.0,100.5 L288.6,99.7 L289.2,99.0 L289.8,98.2 L290.4,97.4 L291.0,96.5 L291.6,95.7 L292.2,94.8 L292.8,93.9 L293.4,93.0 L294.0,92.1 L294.6,91.2 L295.2,90.2 L295.8,89.2 L296.4,88.3 L297.0,87.2 L297.6,86.2 L298.2,85.2 L298.8,84.1 L299.4,83.0 L300.0,81.9 L300.6,80.8 L301.2,79.7 L301.8,78.6 L302.4,77.4 L303.0,76.2 L303.6,75.0 L304.2,73.8 L304.8,72.6 L305.4,71.4 L306.0,70.1 L306.6,68.9 L307.2,67.6 L307.8,66.3 L308.4,65.0 L309.0,63.7 L309.6,62.4 L310.2,61.0 L310.8,59.7 L311.4,58.3 L312.0,56.9 L312.6,55.5 L313.2,54.1 L313.8,52.7 L314.4,51.3 L315.0,49.9 L315.6,48.4 L316.2,47.0M165.0,46.9 L165.6,48.5 L166.2,50.1 L166.8,51.6 L167.4,53.2 L168.0,54.7 L168.6,56.2 L169.2,57.7 L169.8,59.2 L170.4,60.6 L171.0,62.1 L171.6,63.5 L172.2,64.9 L172.8,66.3 L173.4,67.7 L174.0,69.1 L174.6,70.4 L175.2,71.8 L175.8,73.1 L176.4,74.4 L177.0,75.7 L177.6,77.0 L178.2,78.2 L178.8,79.4 L179.4,80.7 L180.0,81.9 L180.6,83.0 L181.2,84.2 L181.8,85.3 L182.4,86.5 L183.0,87.6 L183.6,88.6 L184.2,89.7 L184.8,90.8 L185.4,91.8 L186.0,92.8 L186.6,93.8 L187.2,94.8 L187.8,95.7 L188.4,96.6 L189.0,97.6 L189.6,98.4 L190.2,99.3 L190.8,100.2 L191.4,101.0 L192.0,101.8 L192.6,102.6 L193.2,103.4 L193.8,104.2 L194.4,104.9 L195.0,105.6 L195.6,106.3 L196.2,107.0 L196.8,107.7 L197.4,108.4 L198.0,109.0 L198.6,109.6 L199.2,110.2 L199.8,110.8 L200.4,111.4 L201.0,112.0 L201.6,112.5 L202.2,113.0 L202.8,113.6 L203.4,114.1 L204.0,114.5 L204.6,115.0 L205.2,115.4 L205.8,115.9 L206.4,116.3 L207.0,116.7 L207.6,117.0 L208.2,117.4 L208.8,117.7 L209.4,118.0 L210.0,118.3 L210.6,118.6 L211.2,118.9 L211.8,119.1 L212.4,119.4 L213.0,119.6 L213.6,119.8 L214.2,120.0 L214.8,120.2 L215.4,120.4 L216.0,120.6 L216.6,120.7 L217.2,120.9 L217.8,121.0 L218.4,121.2 L219.0,121.3 L219.6,121.4 L220.2,121.5 L220.8,121.6 L221.4,121.7 L222.0,121.8 L222.6,121.9 L223.2,122.0 L223.8,122.1 L224.4,122.1 L225.0,122.2 L225.6,122.2 L226.2,122.3 L226.8,122.4 L227.4,122.4 L228.0,122.4 L228.6,122.5 L229.2,122.5 L229.8,122.6 L230.4,122.6 L231.0,122.6 L231.6,122.6 L232.2,122.7 L232.8,122.7 L233.4,122.7 L234.0,122.7 L234.6,122.7 L235.2,122.7 L235.8,122.7 L236.4,122.7 L237.0,122.7 L237.6,122.7 L238.2,122.7 L238.8,122.7 L239.4,122.7 L240.0,122.7 L240.6,122.7 L241.2,122.7 L241.8,122.7 L242.4,122.6 L243.0,122.6 L243.6,122.6 L244.2,122.6 L244.8,122.5 L245.4,122.5 L246.0,122.4 L246.6,122.4 L247.2,122.4 L247.8,122.3 L248.4,122.2 L249.0,122.2 L249.6,122.1 L250.2,122.1 L250.8,122.0 L251.4,121.9 L252.0,121.8 L252.6,121.7 L253.2,121.6 L253.8,121.5 L254.4,121.4 L255.0,121.3 L255.6,121.2 L256.2,121.0 L256.8,120.9 L257.4,120.7 L258.0,120.6 L258.6,120.4 L259.2,120.2 L259.8,120.0 L260.4,119.8 L261.0,119.6 L261.6,119.4 L262.2,119.1 L262.8,118.9 L263.4,118.6 L264.0,118.3 L264.6,118.0 L265.2,117.7 L265.8,117.4 L266.4,117.0 L267.0,116.7 L267.6,116.3 L268.2,115.9 L268.8,115.4 L269.4,115.0 L270.0,114.5 L270.6,114.1 L271.2,113.6 L271.8,113.0 L272.4,112.5 L273.0,112.0 L273.6,111.4 L274.2,110.8 L274.8,110.2 L275.4,109.6 L276.0,109.0 L276.6,108.4 L277.2,107.7 L277.8,107.0 L278.4,106.3 L279.0,105.6 L279.6,104.9 L280.2,104.2 L280.8,103.4 L281.4,102.6 L282.0,101.8 L282.6,101.0 L283.2,100.2 L283.8,99.3 L284.4,98.4 L285.0,97.6 L285.6,96.6 L286.2,95.7 L286.8,94.8 L287.4,93.8 L288.0,92.8 L288.6,91.8 L289.2,90.8 L289.8,89.7 L290.4,88.6 L291.0,87.6 L291.6,86.5 L292.2,85.3 L292.8,84.2 L293.4,83.0 L294.0,81.9 L294.6,80.7 L295.2,79.4 L295.8,78.2 L296.4,77.0 L297.0,75.7 L297.6,74.4 L298.2,73.1 L298.8,71.8 L299.4,70.4 L300.0,69.1 L300.6,67.7 L301.2,66.3 L301.8,64.9 L302.4,63.5 L303.0,62.1 L303.6,60.6 L304.2,59.2 L304.8,57.7 L305.4,56.2 L306.0,54.7 L306.6,53.2 L307.2,51.6 L307.8,50.1 L308.4,48.5 L309.0,46.9M170.4,46.7 L171.0,48.4 L171.6,50.1 L172.2,51.8 L172.8,53.5 L173.4,55.1 L174.0,56.7 L174.6,58.3 L175.2,59.9 L175.8,61.5 L176.4,63.0 L177.0,64.6 L177.6,66.1 L178.2,67.6 L178.8,69.0 L179.4,70.5 L180.0,72.0 L180.6,73.4 L181.2,74.8 L181.8,76.2 L182.4,77.5 L183.0,78.9 L183.6,80.2 L184.2,81.5 L184.8,82.8 L185.4,84.1 L186.0,85.3 L186.6,86.6 L187.2,87.8 L187.8,89.0 L188.4,90.2 L189.0,91.3 L189.6,92.5 L190.2,93.6 L190.8,94.7 L191.4,95.8 L192.0,96.8 L192.6,97.9 L193.2,98.9 L193.8,99.9 L194.4,100.9 L195.0,101.9 L195.6,102.9 L196.2,103.8 L196.8,104.8 L197.4,105.7 L198.0,106.6 L198.6,107.4 L199.2,108.3 L199.8,109.2 L200.4,110.0 L201.0,110.8 L201.6,111.6 L202.2,112.4 L202.8,113.1 L203.4,113.9 L204.0,114.5 L204.6,114.7 L205.2,114.9 L205.8,115.1 L206.4,115.3 L207.0,115.5 L207.6,115.6 L208.2,115.8 L208.8,115.9 L209.4,116.0 L210.0,116.2 L210.6,116.3 L211.2,116.4 L211.8,116.5 L212.4,116.5 L213.0,116.6 L213.6,116.7 L214.2,116.7 L214.8,116.8 L215.4,116.8 L216.0,116.9 L216.6,116.9 L217.2,117.0 L217.8,117.0 L218.4,117.0 L219.0,117.0 L219.6,117.0 L220.2,117.0 L220.8,117.1 L221.4,117.1 L222.0,117.1 L222.6,117.1 L223.2,117.1 L223.8,117.1 L224.4,117.1 L225.0,117.1 L225.6,117.1 L226.2,117.0 L226.8,117.0 L227.4,117.0 L228.0,117.0 L228.6,117.0 L229.2,117.0 L229.8,117.0 L230.4,117.0 L231.0,117.0 L231.6,117.0 L232.2,117.0 L232.8,117.0 L233.4,117.0 L234.0,116.9 L234.6,116.9 L235.2,116.9 L235.8,116.9 L236.4,116.9 L237.0,116.9 L237.6,116.9 L238.2,116.9 L238.8,116.9 L239.4,116.9 L240.0,116.9 L240.6,117.0 L241.2,117.0 L241.8,117.0 L242.4,117.0 L243.0,117.0 L243.6,117.0 L244.2,117.0 L244.8,117.0 L245.4,117.0 L246.0,117.0 L246.6,117.0 L247.2,117.0 L247.8,117.0 L248.4,117.1 L249.0,117.1 L249.6,117.1 L250.2,117.1 L250.8,117.1 L251.4,117.1 L252.0,117.1 L252.6,117.1 L253.2,117.1 L253.8,117.0 L254.4,117.0 L255.0,117.0 L255.6,117.0 L256.2,117.0 L256.8,117.0 L257.4,116.9 L258.0,116.9 L258.6,116.8 L259.2,116.8 L259.8,116.7 L260.4,116.7 L261.0,116.6 L261.6,116.5 L262.2,116.5 L262.8,116.4 L263.4,116.3 L264.0,116.2 L264.6,116.0 L265.2,115.9 L265.8,115.8 L266.4,115.6 L267.0,115.5 L267.6,115.3 L268.2,115.1 L268.8,114.9 L269.4,114.7 L270.0,114.5 L270.6,113.9 L271.2,113.1 L271.8,112.4 L272.4,111.6 L273.0,110.8 L273.6,110.0 L274.2,109.2 L274.8,108.3 L275.4,107.4 L276.0,106.6 L276.6,105.7 L277.2,104.8 L277.8,103.8 L278.4,102.9 L279.0,101.9 L279.6,100.9 L280.2,99.9 L280.8,98.9 L281.4,97.9 L282.0,96.8 L282.6,95.8 L283.2,94.7 L283.8,93.6 L284.4,92.5 L285.0,91.3 L285.6,90.2 L286.2,89.0 L286.8,87.8 L287.4,86.6 L288.0,85.3 L288.6,84.1 L289.2,82.8 L289.8,81.5 L290.4,80.2 L291.0,78.9 L291.6,77.5 L292.2,76.2 L292.8,74.8 L293.4,73.4 L294.0,72.0 L294.6,70.5 L295.2,69.0 L295.8,67.6 L296.4,66.1 L297.0,64.6 L297.6,63.0 L298.2,61.5 L298.8,59.9 L299.4,58.3 L300.0,56.7 L300.6,55.1 L301.2,53.5 L301.8,51.8 L302.4,50.1 L303.0,48.4 L303.6,46.7M174.0,46.1 L174.6,47.9 L175.2,49.7 L175.8,51.5 L176.4,53.3 L177.0,55.0 L177.6,56.7 L178.2,58.4 L178.8,60.1 L179.4,61.8 L180.0,63.5 L180.6,65.1 L181.2,66.7 L181.8,68.3 L182.4,69.9 L183.0,71.4 L183.6,73.0 L184.2,74.5 L184.8,76.0 L185.4,77.5 L186.0,78.9 L186.6,80.4 L187.2,81.8 L187.8,83.2 L188.4,84.6 L189.0,86.0 L189.6,87.3 L190.2,88.7 L190.8,90.0 L191.4,91.3 L192.0,92.6 L192.6,93.8 L193.2,95.1 L193.8,96.3 L194.4,97.5 L195.0,98.7 L195.6,99.9 L196.2,101.1 L196.8,102.2 L197.4,103.4 L198.0,104.5 L198.6,105.6 L199.2,106.7 L199.8,107.7 L200.4,108.8 L201.0,109.8 L201.6,110.8 L202.2,111.8 L202.8,112.8 L203.4,113.7 L204.0,114.4 L204.6,114.5 L205.2,114.5 L205.8,114.5 L206.4,114.5 L207.0,114.5 L207.6,114.5 L208.2,114.4 L208.8,114.4 L209.4,114.4 L210.0,114.3 L210.6,114.3 L211.2,114.3 L211.8,114.2 L212.4,114.2 L213.0,114.1 L213.6,114.0 L214.2,114.0 L214.8,113.9 L215.4,113.9 L216.0,113.8 L216.6,113.7 L217.2,113.7 L217.8,113.6 L218.4,113.5 L219.0,113.4 L219.6,113.4 L220.2,113.3 L220.8,113.2 L221.4,113.2 L222.0,113.1 L222.6,113.0 L223.2,113.0 L223.8,112.9 L224.4,112.8 L225.0,112.8 L225.6,112.7 L226.2,112.6 L226.8,112.6 L227.4,112.5 L228.0,112.5 L228.6,112.4 L229.2,112.4 L229.8,112.4 L230.4,112.3 L231.0,112.3 L231.6,112.2 L232.2,112.2 L232.8,112.2 L233.4,112.2 L234.0,112.1 L234.6,112.1 L235.2,112.1 L235.8,112.1 L236.4,112.1 L237.0,112.1 L237.6,112.1 L238.2,112.1 L238.8,112.1 L239.4,112.1 L240.0,112.1 L240.6,112.2 L241.2,112.2 L241.8,112.2 L242.4,112.2 L243.0,112.3 L243.6,112.3 L244.2,112.4 L244.8,112.4 L245.4,112.4 L246.0,112.5 L246.6,112.5 L247.2,112.6 L247.8,112.6 L248.4,112.7 L249.0,112.8 L249.6,112.8 L250.2,112.9 L250.8,113.0 L251.4,113.0 L252.0,113.1 L252.6,113.2 L253.2,113.2 L253.8,113.3 L254.4,113.4 L255.0,113.4 L255.6,113.5 L256.2,113.6 L256.8,113.7 L257.4,113.7 L258.0,113.8 L258.6,113.9 L259.2,113.9 L259.8,114.0 L260.4,114.0 L261.0,114.1 L261.6,114.2 L262.2,114.2 L262.8,114.3 L263.4,114.3 L264.0,114.3 L264.6,114.4 L265.2,114.4 L265.8,114.4 L266.4,114.5 L267.0,114.5 L267.6,114.5 L268.2,114.5 L268.8,114.5 L269.4,114.5 L270.0,114.4 L270.6,113.7 L271.2,112.8 L271.8,111.8 L272.4,110.8 L273.0,109.8 L273.6,108.8 L274.2,107.7 L274.8,106.7 L275.4,105.6 L276.0,104.5 L276.6,103.4 L277.2,102.2 L277.8,101.1 L278.4,99.9 L279.0,98.7 L279.6,97.5 L280.2,96.3 L280.8,95.1 L281.4,93.8 L282.0,92.6 L282.6,91.3 L283.2,90.0 L283.8,88.7 L284.4,87.3 L285.0,86.0 L285.6,84.6 L286.2,83.2 L286.8,81.8 L287.4,80.4 L288.0,78.9 L288.6,77.5 L289.2,76.0 L289.8,74.5 L290.4,73.0 L291.0,71.4 L291.6,69.9 L292.2,68.3 L292.8,66.7 L293.4,65.1 L294.0,63.5 L294.6,61.8 L295.2,60.1 L295.8,58.4 L296.4,56.7 L297.0,55.0 L297.6,53.3 L298.2,51.5 L298.8,49.7 L299.4,47.9 L300.0,46.1M176.4,46.1 L177.0,48.0 L177.6,49.9 L178.2,51.8 L178.8,53.6 L179.4,55.4 L180.0,57.3 L180.6,59.0 L181.2,60.8 L181.8,62.6 L182.4,64.3 L183.0,66.0 L183.6,67.7 L184.2,69.4 L184.8,71.0 L185.4,72.7 L186.0,74.3 L186.6,75.9 L187.2,77.5 L187.8,79.0 L188.4,80.6 L189.0,82.1 L189.6,83.6 L190.2,85.1 L190.8,86.6 L191.4,88.1 L192.0,89.5 L192.6,91.0 L193.2,92.4 L193.8,93.8 L194.4,95.2 L195.0,96.5 L195.6,97.9 L196.2,99.2 L196.8,100.5 L197.4,101.8 L198.0,103.1 L198.6,104.3 L199.2,105.6 L199.8,106.8 L200.4,108.0 L201.0,109.1 L201.6,110.3 L202.2,111.4 L202.8,112.5 L203.4,113.6 L204.0,114.4 L204.6,114.3 L205.2,114.2 L205.8,114.1 L206.4,113.9 L207.0,113.8 L207.6,113.7 L208.2,113.5 L208.8,113.4 L209.4,113.3 L210.0,113.1 L210.6,113.0 L211.2,112.9 L211.8,112.7 L212.4,112.6 L213.0,112.4 L213.6,112.3 L214.2,112.1 L214.8,112.0 L215.4,111.9 L216.0,111.7 L216.6,111.6 L217.2,111.4 L217.8,111.3 L218.4,111.2 L219.0,111.0 L219.6,110.9 L220.2,110.8 L220.8,110.6 L221.4,110.5 L222.0,110.4 L222.6,110.3 L223.2,110.2 L223.8,110.1 L224.4,110.0 L225.0,109.9 L225.6,109.8 L226.2,109.7 L226.8,109.6 L227.4,109.5 L228.0,109.4 L228.6,109.3 L229.2,109.3 L229.8,109.2 L230.4,109.1 L231.0,109.1 L231.6,109.0 L232.2,109.0 L232.8,108.9 L233.4,108.9 L234.0,108.9 L234.6,108.9 L235.2,108.8 L235.8,108.8 L236.4,108.8 L237.0,108.8 L237.6,108.8 L238.2,108.8 L238.8,108.8 L239.4,108.9 L240.0,108.9 L240.6,108.9 L241.2,108.9 L241.8,109.0 L242.4,109.0 L243.0,109.1 L243.6,109.1 L244.2,109.2 L244.8,109.3 L245.4,109.3 L246.0,109.4 L246.6,109.5 L247.2,109.6 L247.8,109.7 L248.4,109.8 L249.0,109.9 L249.6,110.0 L250.2,110.1 L250.8,110.2 L251.4,110.3 L252.0,110.4 L252.6,110.5 L253.2,110.6 L253.8,110.8 L254.4,110.9 L255.0,111.0 L255.6,111.2 L256.2,111.3 L256.8,111.4 L257.4,111.6 L258.0,111.7 L258.6,111.9 L259.2,112.0 L259.8,112.1 L260.4,112.3 L261.0,112.4 L261.6,112.6 L262.2,112.7 L262.8,112.9 L263.4,113.0 L264.0,113.1 L264.6,113.3 L265.2,113.4 L265.8,113.5 L266.4,113.7 L267.0,113.8 L267.6,113.9 L268.2,114.1 L268.8,114.2 L269.4,114.3 L270.0,114.4 L270.6,113.6 L271.2,112.5 L271.8,111.4 L272.4,110.3 L273.0,109.1 L273.6,108.0 L274.2,106.8 L274.8,105.6 L275.4,104.3 L276.0,103.1 L276.6,101.8 L277.2,100.5 L277.8,99.2 L278.4,97.9 L279.0,96.5 L279.6,95.2 L280.2,93.8 L280.8,92.4 L281.4,91.0 L282.0,89.5 L282.6,88.1 L283.2,86.6 L283.8,85.1 L284.4,83.6 L285.0,82.1 L285.6,80.6 L286.2,79.0 L286.8,77.5 L287.4,75.9 L288.0,74.3 L288.6,72.7 L289.2,71.0 L289.8,69.4 L290.4,67.7 L291.0,66.0 L291.6,64.3 L292.2,62.6 L292.8,60.8 L293.4,59.0 L294.0,57.3 L294.6,55.4 L295.2,53.6 L295.8,51.8 L296.4,49.9 L297.0,48.0 L297.6,46.1M177.6,46.2 L178.2,48.1 L178.8,50.1 L179.4,52.0 L180.0,53.9 L180.6,55.8 L181.2,57.7 L181.8,59.5 L182.4,61.4 L183.0,63.1 L183.6,64.9 L184.2,66.6 L184.8,68.4 L185.4,70.0 L186.0,71.7 L186.6,73.3 L187.2,74.9 L187.8,76.4 L188.4,78.0 L189.0,79.4 L189.6,80.9 L190.2,82.3 L190.8,83.6 L191.4,84.9 L192.0,86.2 L192.6,87.4 L193.2,88.6 L193.8,89.7 L194.4,90.8 L195.0,91.8 L195.6,92.8 L196.2,93.7 L196.8,94.6 L197.4,95.4 L198.0,96.1 L198.6,96.9 L199.2,97.5 L199.8,98.2 L200.4,98.7 L201.0,99.2 L201.6,99.7 L202.2,100.2 L202.8,100.5 L203.4,100.9 L204.0,101.2 L204.6,101.5 L205.2,101.7 L205.8,101.9 L206.4,102.1 L207.0,102.3 L207.6,102.4 L208.2,102.5 L208.8,102.6 L209.4,102.6 L210.0,102.7 L210.6,102.7 L211.2,102.7 L211.8,102.7 L212.4,102.7 L213.0,102.6 L213.6,102.6 L214.2,102.6 L214.8,102.5 L215.4,102.4 L216.0,102.4 L216.6,102.3 L217.2,102.2 L217.8,102.1 L218.4,102.1 L219.0,102.0 L219.6,101.9 L220.2,101.8 L220.8,101.7 L221.4,101.6 L222.0,101.5 L222.6,101.4 L223.2,101.4 L223.8,101.3 L224.4,101.2 L225.0,101.1 L225.6,101.0 L226.2,100.9 L226.8,100.9 L227.4,100.8 L228.0,100.7 L228.6,100.7 L229.2,100.6 L229.8,100.5 L230.4,100.5 L231.0,100.4 L231.6,100.4 L232.2,100.4 L232.8,100.3 L233.4,100.3 L234.0,100.3 L234.6,100.2 L235.2,100.2 L235.8,100.2 L236.4,100.2 L237.0,100.2 L237.6,100.2 L238.2,100.2 L238.8,100.2 L239.4,100.2 L240.0,100.3 L240.6,100.3 L241.2,100.3 L241.8,100.4 L242.4,100.4 L243.0,100.4 L243.6,100.5 L244.2,100.5 L244.8,100.6 L245.4,100.7 L246.0,100.7 L246.6,100.8 L247.2,100.9 L247.8,100.9 L248.4,101.0 L249.0,101.1 L249.6,101.2 L250.2,101.3 L250.8,101.4 L251.4,101.4 L252.0,101.5 L252.6,101.6 L253.2,101.7 L253.8,101.8 L254.4,101.9 L255.0,102.0 L255.6,102.1 L256.2,102.1 L256.8,102.2 L257.4,102.3 L258.0,102.4 L258.6,102.4 L259.2,102.5 L259.8,102.6 L260.4,102.6 L261.0,102.6 L261.6,102.7 L262.2,102.7 L262.8,102.7 L263.4,102.7 L264.0,102.7 L264.6,102.6 L265.2,102.6 L265.8,102.5 L266.4,102.4 L267.0,102.3 L267.6,102.1 L268.2,101.9 L268.8,101.7 L269.4,101.5 L270.0,101.2 L270.6,100.9 L271.2,100.5 L271.8,100.2 L272.4,99.7 L273.0,99.2 L273.6,98.7 L274.2,98.2 L274.8,97.5 L275.4,96.9 L276.0,96.1 L276.6,95.4 L277.2,94.6 L277.8,93.7 L278.4,92.8 L279.0,91.8 L279.6,90.8 L280.2,89.7 L280.8,88.6 L281.4,87.4 L282.0,86.2 L282.6,84.9 L283.2,83.6 L283.8,82.3 L284.4,80.9 L285.0,79.4 L285.6,78.0 L286.2,76.4 L286.8,74.9 L287.4,73.3 L288.0,71.7 L288.6,70.0 L289.2,68.4 L289.8,66.6 L290.4,64.9 L291.0,63.1 L291.6,61.4 L292.2,59.5 L292.8,57.7 L293.4,55.8 L294.0,53.9 L294.6,52.0 L295.2,50.1 L295.8,48.1 L296.4,46.2" stroke="#808080" stroke-width="2.1"/>
<path d="M118.2,45.8 L118.8,46.5 L119.4,47.2 L120.0,47.9 L120.6,48.6 L121.2,49.4 L121.8,50.1 L122.4,50.9 L123.0,51.7 L123.6,52.5 L124.2,53.2 L124.8,54.0 L125.4,54.8 L126.0,55.7 L126.6,56.5 L127.2,57.3 L127.8,58.1 L128.4,59.0 L129.0,59.8 L129.6,60.6 L130.2,61.5 L130.8,62.4 L131.4,63.2 L132.0,64.1 L132.6,64.9 L133.2,65.8 L133.8,66.7 L134.4,67.5 L135.0,68.4 L135.6,69.3 L136.2,70.2 L136.8,71.0 L137.4,71.9 L138.0,72.8 L138.6,73.7 L139.2,74.5 L139.8,75.4 L140.4,76.3 L141.0,77.1 L141.6,78.0 L142.2,78.8 L142.8,79.7 L143.4,80.6 L144.0,81.4 L144.6,82.2 L145.2,83.1 L145.8,83.9 L146.4,84.7 L147.0,85.6 L147.6,86.4 L148.2,87.2 L148.8,88.0 L149.4,88.8 L150.0,89.6 L150.6,90.4 L151.2,91.1 L151.8,91.9 L152.4,92.6 L153.0,93.4 L153.6,94.1 L154.2,94.9 L154.8,95.6 L155.4,96.3 L156.0,97.0 L156.6,97.7 L157.2,98.4 L157.8,99.0 L158.4,99.7 L159.0,100.3 L159.6,101.0 L160.2,101.6 L160.8,102.2 L161.4,102.8 L162.0,103.4 L162.6,104.0 L163.2,104.5 L163.8,105.1 L164.4,105.6 L165.0,106.2 L165.6,106.7 L166.2,107.2 L166.8,107.7 L167.4,108.2 L168.0,108.6 L168.6,109.1 L169.2,109.5 L169.8,110.0 L170.4,110.4 L171.0,110.8 L171.6,111.2 L172.2,111.6 L172.8,111.9 L173.4,112.3 L174.0,112.6 L174.6,113.0 L175.2,113.3 L175.8,113.6 L176.4,113.9 L177.0,114.2 L177.6,114.4 L178.2,114.7 L178.8,115.0 L179.4,115.2 L180.0,115.4 L180.6,115.7 L181.2,115.9 L181.8,116.1 L182.4,116.3 L183.0,116.5 L183.6,116.7 L184.2,116.8 L184.8,117.0 L185.4,117.2 L186.0,117.4 L186.6,117.6 L187.2,117.8 L187.8,118.1 L188.4,118.3 L189.0,118.6 L189.6,118.9 L190.2,119.3 L190.8,119.6 L191.4,120.0 L192.0,120.3 L192.6,120.7 L193.2,121.1 L193.8,121.5 L194.4,121.9 L195.0,122.3 L195.6,122.7 L196.2,123.1 L196.8,123.6 L197.4,124.0 L198.0,124.4 L198.6,124.9 L199.2,125.3 L199.8,125.8 L200.4,126.3 L201.0,126.7 L201.6,127.2 L202.2,127.7 L202.8,128.1 L203.4,128.6 L204.0,129.1 L204.6,129.5 L205.2,130.0 L205.8,130.5 L206.4,131.0 L207.0,131.4 L207.6,131.9 L208.2,132.4 L208.8,132.8 L209.4,133.3 L210.0,133.7 L210.6,134.2 L211.2,134.6 L211.8,135.1 L212.4,135.5 L213.0,136.0 L213.6,136.4 L214.2,136.8 L214.8,137.2 L215.4,137.6 L216.0,138.1 L216.6,138.4 L217.2,138.8 L217.8,139.2 L218.4,139.6 L219.0,139.9 L219.6,140.3 L220.2,140.6 L220.8,141.0 L221.4,141.3 L222.0,141.6 L222.6,141.9 L223.2,142.2 L223.8,142.5 L224.4,142.8 L225.0,143.0 L225.6,143.3 L226.2,143.5 L226.8,143.7 L227.4,144.0 L228.0,144.2 L228.6,144.3 L229.2,144.5 L229.8,144.7 L230.4,144.8 L231.0,145.0 L231.6,145.1 L232.2,145.2 L232.8,145.3 L233.4,145.4 L234.0,145.5 L234.6,145.5 L235.2,145.6 L235.8,145.6 L236.4,145.6 L237.0,145.6 L237.6,145.6 L238.2,145.6 L238.8,145.6 L239.4,145.5 L240.0,145.5 L240.6,145.4 L241.2,145.3 L241.8,145.2 L242.4,145.1 L243.0,145.0 L243.6,144.8 L244.2,144.7 L244.8,144.5 L245.4,144.3 L246.0,144.2 L246.6,144.0 L247.2,143.7 L247.8,143.5 L248.4,143.3 L249.0,143.0 L249.6,142.8 L250.2,142.5 L250.8,142.2 L251.4,141.9 L252.0,141.6 L252.6,141.3 L253.2,141.0 L253.8,140.6 L254.4,140.3 L255.0,139.9 L255.6,139.6 L256.2,139.2 L256.8,138.8 L257.4,138.4 L258.0,138.1 L258.6,137.6 L259.2,137.2 L259.8,136.8 L260.4,136.4 L261.0,136.0 L261.6,135.5 L262.2,135.1 L262.8,134.6 L263.4,134.2 L264.0,133.7 L264.6,133.3 L265.2,132.8 L265.8,132.4 L266.4,131.9 L267.0,131.4 L267.6,131.0 L268.2,130.5 L268.8,130.0 L269.4,129.5 L270.0,129.1 L270.6,128.6 L271.2,128.1 L271.8,127.7 L272.4,127.2 L273.0,126.7 L273.6,126.3 L274.2,125.8 L274.8,125.3 L275.4,124.9 L276.0,124.4 L276.6,124.0 L277.2,123.6 L277.8,123.1 L278.4,122.7 L279.0,122.3 L279.6,121.9 L280.2,121.5 L280.8,121.1 L281.4,120.7 L282.0,120.3 L282.6,120.0 L283.2,119.6 L283.8,119.3 L284.4,118.9 L285.0,118.6 L285.6,118.3 L286.2,118.1 L286.8,117.8 L287.4,117.6 L288.0,117.4 L288.6,117.2 L289.2,117.0 L289.8,116.8 L290.4,116.7 L291.0,116.5 L291.6,116.3 L292.2,116.1 L292.8,115.9 L293.4,115.7 L294.0,115.4 L294.6,115.2 L295.2,115.0 L295.8,114.7 L296.4,114.4 L297.0,114.2 L297.6,113.9 L298.2,113.6 L298.8,113.3 L299.4,113.0 L300.0,112.6 L300.6,112.3 L301.2,111.9 L301.8,111.6 L302.4,111.2 L303.0,110.8 L303.6,110.4 L304.2,110.0 L304.8,109.5 L305.4,109.1 L306.0,108.6 L306.6,108.2 L307.2,107.7 L307.8,107.2 L308.4,106.7 L309.0,106.2 L309.6,105.6 L310.2,105.1 L310.8,104.5 L311.4,104.0 L312.0,103.4 L312.6,102.8 L313.2,102.2 L313.8,101.6 L314.4,101.0 L315.0,100.3 L315.6,99.7 L316.2,99.0 L316.8,98.4 L317.4,97.7 L318.0,97.0 L318.6,96.3 L319.2,95.6 L319.8,94.9 L320.4,94.1 L321.0,93.4 L321.6,92.6 L322.2,91.9 L322.8,91.1 L323.4,90.4 L324.0,89.6 L324.6,88.8 L325.2,88.0 L325.8,87.2 L326.4,86.4 L327.0,85.6 L327.6,84.7 L328.2,83.9 L328.8,83.1 L329.4,82.2 L330.0,81.4 L330.6,80.6 L331.2,79.7 L331.8,78.8 L332.4,78.0 L333.0,77.1 L333.6,76.3 L334.2,75.4 L334.8,74.5 L335.4,73.7 L336.0,72.8 L336.6,71.9 L337.2,71.0 L337.8,70.2 L338.4,69.3 L339.0,68.4 L339.6,67.5 L340.2,66.7 L340.8,65.8 L341.4,64.9 L342.0,64.1 L342.6,63.2 L343.2,62.4 L343.8,61.5 L344.4,60.6 L345.0,59.8 L345.6,59.0 L346.2,58.1 L346.8,57.3 L347.4,56.5 L348.0,55.7 L348.6,54.8 L349.2,54.0 L349.8,53.2 L350.4,52.5 L351.0,51.7 L351.6,50.9 L352.2,50.1 L352.8,49.4 L353.4,48.6 L354.0,47.9 L354.6,47.2 L355.2,46.5 L355.8,45.8" stroke="#0000ff" stroke-width="2.5"/>
<path d="M118.2,251.2 L118.8,250.5 L119.4,249.8 L120.0,249.1 L120.6,248.4 L121.2,247.6 L121.8,246.9 L122.4,246.1 L123.0,245.3 L123.6,244.5 L124.2,243.8 L124.8,243.0 L125.4,242.2 L126.0,241.3 L126.6,240.5 L127.2,239.7 L127.8,238.9 L128.4,238.0 L129.0,237.2 L129.6,236.4 L130.2,235.5 L130.8,234.6 L131.4,233.8 L132.0,232.9 L132.6,232.1 L133.2,231.2 L133.8,230.3 L134.4,229.5 L135.0,228.6 L135.6,227.7 L136.2,226.8 L136.8,226.0 L137.4,225.1 L138.0,224.2 L138.6,223.3 L139.2,222.5 L139.8,221.6 L140.4,220.7 L141.0,219.9 L141.6,219.0 L142.2,218.2 L142.8,217.3 L143.4,216.4 L144.0,215.6 L144.6,214.8 L145.2,213.9 L145.8,213.1 L146.4,212.3 L147.0,211.4 L147.6,210.6 L148.2,209.8 L148.8,209.0 L149.4,208.2 L150.0,207.4 L150.6,206.6 L151.2,205.9 L151.8,205.1 L152.4,204.4 L153.0,203.6 L153.6,202.9 L154.2,202.1 L154.8,201.4 L155.4,200.7 L156.0,200.0 L156.6,199.3 L157.2,198.6 L157.8,198.0 L158.4,197.3 L159.0,196.7 L159.6,196.0 L160.2,195.4 L160.8,194.8 L161.4,194.2 L162.0,193.6 L162.6,193.0 L163.2,192.5 L163.8,191.9 L164.4,191.4 L165.0,190.8 L165.6,190.3 L166.2,189.8 L166.8,189.3 L167.4,188.8 L168.0,188.4 L168.6,187.9 L169.2,187.5 L169.8,187.0 L170.4,186.6 L171.0,186.2 L171.6,185.8 L172.2,185.4 L172.8,185.1 L173.4,184.7 L174.0,184.4 L174.6,184.0 L175.2,183.7 L175.8,183.4 L176.4,183.1 L177.0,182.8 L177.6,182.6 L178.2,182.3 L178.8,182.0 L179.4,181.8 L180.0,181.6 L180.6,181.3 L181.2,181.1 L181.8,180.9 L182.4,180.7 L183.0,180.5 L183.6,180.3 L184.2,180.2 L184.8,180.0 L185.4,179.8 L186.0,179.6 L186.6,179.4 L187.2,179.2 L187.8,178.9 L188.4,178.7 L189.0,178.4 L189.6,178.1 L190.2,177.7 L190.8,177.4 L191.4,177.0 L192.0,176.7 L192.6,176.3 L193.2,175.9 L193.8,175.5 L194.4,175.1 L195.0,174.7 L195.6,174.3 L196.2,173.9 L196.8,173.4 L197.4,173.0 L198.0,172.6 L198.6,172.1 L199.2,171.7 L199.8,171.2 L200.4,170.7 L201.0,170.3 L201.6,169.8 L202.2,169.3 L202.8,168.9 L203.4,168.4 L204.0,167.9 L204.6,167.5 L205.2,167.0 L205.8,166.5 L206.4,166.0 L207.0,165.6 L207.6,165.1 L208.2,164.6 L208.8,164.2 L209.4,163.7 L210.0,163.3 L210.6,162.8 L211.2,162.4 L211.8,161.9 L212.4,161.5 L213.0,161.0 L213.6,160.6 L214.2,160.2 L214.8,159.8 L215.4,159.4 L216.0,158.9 L216.6,158.6 L217.2,158.2 L217.8,157.8 L218.4,157.4 L219.0,157.1 L219.6,156.7 L220.2,156.4 L220.8,156.0 L221.4,155.7 L222.0,155.4 L222.6,155.1 L223.2,154.8 L223.8,154.5 L224.4,154.2 L225.0,154.0 L225.6,153.7 L226.2,153.5 L226.8,153.3 L227.4,153.0 L228.0,152.8 L228.6,152.7 L229.2,152.5 L229.8,152.3 L230.4,152.2 L231.0,152.0 L231.6,151.9 L232.2,151.8 L232.8,151.7 L233.4,151.6 L234.0,151.5 L234.6,151.5 L235.2,151.4 L235.8,151.4 L236.4,151.4 L237.0,151.4 L237.6,151.4 L238.2,151.4 L238.8,151.4 L239.4,151.5 L240.0,151.5 L240.6,151.6 L241.2,151.7 L241.8,151.8 L242.4,151.9 L243.0,152.0 L243.6,152.2 L244.2,152.3 L244.8,152.5 L245.4,152.7 L246.0,152.8 L246.6,153.0 L247.2,153.3 L247.8,153.5 L248.4,153.7 L249.0,154.0 L249.6,154.2 L250.2,154.5 L250.8,154.8 L251.4,155.1 L252.0,155.4 L252.6,155.7 L253.2,156.0 L253.8,156.4 L254.4,156.7 L255.0,157.1 L255.6,157.4 L256.2,157.8 L256.8,158.2 L257.4,158.6 L258.0,158.9 L258.6,159.4 L259.2,159.8 L259.8,160.2 L260.4,160.6 L261.0,161.0 L261.6,161.5 L262.2,161.9 L262.8,162.4 L263.4,162.8 L264.0,163.3 L264.6,163.7 L265.2,164.2 L265.8,164.6 L266.4,165.1 L267.0,165.6 L267.6,166.0 L268.2,166.5 L268.8,167.0 L269.4,167.5 L270.0,167.9 L270.6,168.4 L271.2,168.9 L271.8,169.3 L272.4,169.8 L273.0,170.3 L273.6,170.7 L274.2,171.2 L274.8,171.7 L275.4,172.1 L276.0,172.6 L276.6,173.0 L277.2,173.4 L277.8,173.9 L278.4,174.3 L279.0,174.7 L279.6,175.1 L280.2,175.5 L280.8,175.9 L281.4,176.3 L282.0,176.7 L282.6,177.0 L283.2,177.4 L283.8,177.7 L284.4,178.1 L285.0,178.4 L285.6,178.7 L286.2,178.9 L286.8,179.2 L287.4,179.4 L288.0,179.6 L288.6,179.8 L289.2,180.0 L289.8,180.2 L290.4,180.3 L291.0,180.5 L291.6,180.7 L292.2,180.9 L292.8,181.1 L293.4,181.3 L294.0,181.6 L294.6,181.8 L295.2,182.0 L295.8,182.3 L296.4,182.6 L297.0,182.8 L297.6,183.1 L298.2,183.4 L298.8,183.7 L299.4,184.0 L300.0,184.4 L300.6,184.7 L301.2,185.1 L301.8,185.4 L302.4,185.8 L303.0,186.2 L303.6,186.6 L304.2,187.0 L304.8,187.5 L305.4,187.9 L306.0,188.4 L306.6,188.8 L307.2,189.3 L307.8,189.8 L308.4,190.3 L309.0,190.8 L309.6,191.4 L310.2,191.9 L310.8,192.5 L311.4,193.0 L312.0,193.6 L312.6,194.2 L313.2,194.8 L313.8,195.4 L314.4,196.0 L315.0,196.7 L315.6,197.3 L316.2,198.0 L316.8,198.6 L317.4,199.3 L318.0,200.0 L318.6,200.7 L319.2,201.4 L319.8,202.1 L320.4,202.9 L321.0,203.6 L321.6,204.4 L322.2,205.1 L322.8,205.9 L323.4,206.6 L324.0,207.4 L324.6,208.2 L325.2,209.0 L325.8,209.8 L326.4,210.6 L327.0,211.4 L327.6,212.3 L328.2,213.1 L328.8,213.9 L329.4,214.8 L330.0,215.6 L330.6,216.4 L331.2,217.3 L331.8,218.2 L332.4,219.0 L333.0,219.9 L333.6,220.7 L334.2,221.6 L334.8,222.5 L335.4,223.3 L336.0,224.2 L336.6,225.1 L337.2,226.0 L337.8,226.8 L338.4,227.7 L339.0,228.6 L339.6,229.5 L340.2,230.3 L340.8,231.2 L341.4,232.1 L342.0,232.9 L342.6,233.8 L343.2,234.6 L343.8,235.5 L344.4,236.4 L345.0,237.2 L345.6,238.0 L346.2,238.9 L346.8,239.7 L347.4,240.5 L348.0,241.3 L348.6,242.2 L349.2,243.0 L349.8,243.8 L350.4,244.5 L351.0,245.3 L351.6,246.1 L352.2,246.9 L352.8,247.6 L353.4,248.4 L354.0,249.1 L354.6,249.8 L355.2,250.5 L355.8,251.2" stroke="#ff0000" stroke-width="2.5"/>
<path d="M92.8,147.6 H381.0" stroke="#ffbf0a" stroke-width="2.8" stroke-dasharray="9.9 7.1"/>
</g>
<rect x="93.0" y="57.65" width="288.0" height="181.85" fill="none" stroke="#6a6a6a" stroke-width="1"/>
<path d="M93.0,239.5 v-3.2 M93.0,57.65 v3.2 M107.4,239.5 v-2.3 M107.4,57.65 v2.3 M121.8,239.5 v-2.3 M121.8,57.65 v2.3 M136.2,239.5 v-2.3 M136.2,57.65 v2.3 M150.6,239.5 v-2.3 M150.6,57.65 v2.3 M165.0,239.5 v-2.3 M165.0,57.65 v2.3 M179.4,239.5 v-2.3 M179.4,57.65 v2.3 M193.8,239.5 v-2.3 M193.8,57.65 v2.3 M208.2,239.5 v-2.3 M208.2,57.65 v2.3 M222.6,239.5 v-2.3 M222.6,57.65 v2.3 M237.0,239.5 v-3.2 M237.0,57.65 v3.2 M251.4,239.5 v-2.3 M251.4,57.65 v2.3 M265.8,239.5 v-2.3 M265.8,57.65 v2.3 M280.2,239.5 v-2.3 M280.2,57.65 v2.3 M294.6,239.5 v-2.3 M294.6,57.65 v2.3 M309.0,239.5 v-2.3 M309.0,57.65 v2.3 M323.4,239.5 v-2.3 M323.4,57.65 v2.3 M337.8,239.5 v-2.3 M337.8,57.65 v2.3 M352.2,239.5 v-2.3 M352.2,57.65 v2.3 M366.6,239.5 v-2.3 M366.6,57.65 v2.3 M381.0,239.5 v-3.2 M381.0,57.65 v3.2 M93.0,230.27 h2.0 M381.0,230.27 h-2.0 M93.0,221.18 h3.2 M381.0,221.18 h-3.2 M93.0,212.09 h2.0 M381.0,212.09 h-2.0 M93.0,203.01 h2.0 M381.0,203.01 h-2.0 M93.0,193.93 h2.0 M381.0,193.93 h-2.0 M93.0,184.84 h3.2 M381.0,184.84 h-3.2 M93.0,175.75 h2.0 M381.0,175.75 h-2.0 M93.0,166.67 h2.0 M381.0,166.67 h-2.0 M93.0,157.59 h2.0 M381.0,157.59 h-2.0 M93.0,148.50 h3.2 M381.0,148.50 h-3.2 M93.0,139.41 h2.0 M381.0,139.41 h-2.0 M93.0,130.33 h2.0 M381.0,130.33 h-2.0 M93.0,121.25 h2.0 M381.0,121.25 h-2.0 M93.0,112.16 h3.2 M381.0,112.16 h-3.2 M93.0,103.07 h2.0 M381.0,103.07 h-2.0 M93.0,93.99 h2.0 M381.0,93.99 h-2.0 M93.0,84.91 h2.0 M381.0,84.91 h-2.0 M93.0,75.82 h3.2 M381.0,75.82 h-3.2 M93.0,66.73 h2.0 M381.0,66.73 h-2.0 " stroke="#777" stroke-width="0.8" fill="none"/>
<text x="71.36" y="87.67" font-family="Liberation Sans, sans-serif" font-size="32.5" fill="#646464">4</text>
<text x="72.09" y="124.01" font-family="Liberation Sans, sans-serif" font-size="32.5" fill="#646464">2</text>
<text x="71.68" y="160.35" font-family="Liberation Sans, sans-serif" font-size="32.5" fill="#646464">0</text>
<text x="53.07" y="196.69" font-family="Liberation Sans, sans-serif" font-size="32.5" fill="#646464">−2</text>
<text x="52.34" y="233.03" font-family="Liberation Sans, sans-serif" font-size="32.5" fill="#646464">−4</text>
<text transform="translate(34.95,158.00) scale(1.1143,1)" font-family="Liberation Serif, serif" font-style="italic" font-size="32.5" fill="#000">E</text>
<text transform="translate(88.81,260.50) scale(1.0240,1)" font-family="Liberation Serif, serif" font-style="italic" font-size="24.4" fill="#111">M</text>
<text transform="translate(365.12,260.50) scale(1.0470,1)" font-family="Liberation Serif, serif" font-style="italic" font-size="24.4" fill="#111">M</text>
<text transform="translate(230.47,261.00) scale(0.9662,1)" font-family="Liberation Serif, serif" font-size="27.6" fill="#111">Γ</text>
<text x="17.73" y="38.70" font-family="Liberation Sans, sans-serif" font-size="30" fill="#000">(a)</text>
<rect x="526.7" y="58.8" width="297.5" height="184.2" fill="none" stroke="#6e6e6e" stroke-width="0.9"/>
<path d="M526.7,226.3 h3.3 M824.2,226.3 h-3.3 M526.7,140.8 h3.3 M824.2,140.8 h-3.3" stroke="#6e6e6e" stroke-width="0.9"/>
<path d="M525.5,140.8 H824.2" stroke="#000" stroke-width="1.45" stroke-dasharray="5 3.57"/>
<g fill="#808080"><circle cx="535.3" cy="222.20" r="2.75"/><circle cx="536.7" cy="222.20" r="2.75"/><circle cx="538.1" cy="222.20" r="2.75"/><circle cx="539.6" cy="222.20" r="2.75"/><circle cx="541.0" cy="222.20" r="2.75"/><circle cx="542.4" cy="222.20" r="2.75"/><circle cx="543.8" cy="222.20" r="2.75"/><circle cx="545.2" cy="222.20" r="2.75"/><circle cx="546.6" cy="222.20" r="2.75"/><circle cx="548.1" cy="222.20" r="2.75"/><circle cx="549.5" cy="222.20" r="2.75"/><circle cx="550.9" cy="222.20" r="2.75"/><circle cx="552.3" cy="222.20" r="2.75"/><circle cx="553.7" cy="222.20" r="2.75"/><circle cx="555.2" cy="222.20" r="2.75"/><circle cx="556.6" cy="222.20" r="2.75"/><circle cx="558.0" cy="222.20" r="2.75"/><circle cx="559.4" cy="222.20" r="2.75"/><circle cx="560.8" cy="222.20" r="2.75"/><circle cx="562.3" cy="222.20" r="2.75"/><circle cx="563.7" cy="222.20" r="2.75"/><circle cx="565.1" cy="222.20" r="2.75"/><circle cx="566.5" cy="222.20" r="2.75"/><circle cx="567.9" cy="222.20" r="2.75"/><circle cx="569.3" cy="222.20" r="2.75"/><circle cx="570.8" cy="222.20" r="2.75"/><circle cx="572.2" cy="222.20" r="2.75"/><circle cx="573.6" cy="222.20" r="2.75"/><circle cx="575.0" cy="220.95" r="2.75"/><circle cx="576.4" cy="220.95" r="2.75"/><circle cx="577.9" cy="220.95" r="2.75"/><circle cx="579.3" cy="220.95" r="2.75"/><circle cx="580.7" cy="220.95" r="2.75"/><circle cx="582.1" cy="220.95" r="2.75"/><circle cx="583.5" cy="220.95" r="2.75"/><circle cx="584.9" cy="220.95" r="2.75"/><circle cx="586.4" cy="220.95" r="2.75"/><circle cx="587.8" cy="219.70" r="2.75"/><circle cx="589.2" cy="219.70" r="2.75"/><circle cx="590.6" cy="219.70" r="2.75"/><circle cx="592.0" cy="219.70" r="2.75"/><circle cx="593.5" cy="219.70" r="2.75"/><circle cx="594.9" cy="218.45" r="2.75"/><circle cx="596.3" cy="218.45" r="2.75"/><circle cx="597.7" cy="218.45" r="2.75"/><circle cx="599.1" cy="218.45" r="2.75"/><circle cx="600.6" cy="217.20" r="2.75"/><circle cx="602.0" cy="217.20" r="2.75"/><circle cx="603.4" cy="217.20" r="2.75"/><circle cx="604.8" cy="215.95" r="2.75"/><circle cx="606.2" cy="215.95" r="2.75"/><circle cx="607.6" cy="215.95" r="2.75"/><circle cx="609.1" cy="214.70" r="2.75"/><circle cx="610.5" cy="214.70" r="2.75"/><circle cx="611.9" cy="213.45" r="2.75"/><circle cx="613.3" cy="213.45" r="2.75"/><circle cx="614.7" cy="212.20" r="2.75"/><circle cx="616.2" cy="210.95" r="2.75"/><circle cx="617.6" cy="210.95" r="2.75"/><circle cx="619.0" cy="209.70" r="2.75"/><circle cx="620.4" cy="209.70" r="2.75"/><circle cx="621.8" cy="208.45" r="2.75"/><circle cx="623.2" cy="207.20" r="2.75"/><circle cx="624.7" cy="205.95" r="2.75"/><circle cx="626.1" cy="204.70" r="2.75"/><circle cx="627.5" cy="203.45" r="2.75"/><circle cx="628.9" cy="202.20" r="2.75"/><circle cx="630.3" cy="200.95" r="2.75"/><circle cx="631.8" cy="199.70" r="2.75"/><circle cx="633.2" cy="198.45" r="2.75"/><circle cx="634.6" cy="197.20" r="2.75"/><circle cx="636.0" cy="195.95" r="2.75"/><circle cx="637.4" cy="194.70" r="2.75"/><circle cx="638.9" cy="192.20" r="2.75"/><circle cx="640.3" cy="190.95" r="2.75"/><circle cx="641.7" cy="189.70" r="2.75"/><circle cx="643.1" cy="188.45" r="2.75"/><circle cx="644.5" cy="187.20" r="2.75"/><circle cx="645.9" cy="184.70" r="2.75"/><circle cx="647.4" cy="183.45" r="2.75"/><circle cx="648.8" cy="182.20" r="2.75"/><circle cx="650.2" cy="180.95" r="2.75"/><circle cx="651.6" cy="178.45" r="2.75"/><circle cx="653.0" cy="177.20" r="2.75"/><circle cx="654.5" cy="175.95" r="2.75"/><circle cx="655.9" cy="173.45" r="2.75"/><circle cx="657.3" cy="172.20" r="2.75"/><circle cx="658.7" cy="169.70" r="2.75"/><circle cx="660.1" cy="168.45" r="2.75"/><circle cx="661.5" cy="165.95" r="2.75"/><circle cx="663.0" cy="164.70" r="2.75"/><circle cx="664.4" cy="163.45" r="2.75"/><circle cx="665.8" cy="162.20" r="2.75"/><circle cx="667.2" cy="159.70" r="2.75"/><circle cx="668.6" cy="158.45" r="2.75"/><circle cx="670.1" cy="157.20" r="2.75"/><circle cx="671.5" cy="155.95" r="2.75"/><circle cx="672.9" cy="154.70" r="2.75"/><circle cx="674.3" cy="153.45" r="2.75"/><circle cx="675.7" cy="153.45" r="2.75"/><circle cx="677.1" cy="153.45" r="2.75"/><circle cx="678.6" cy="153.45" r="2.75"/><circle cx="680.0" cy="153.45" r="2.75"/><circle cx="681.4" cy="154.70" r="2.75"/><circle cx="682.8" cy="155.95" r="2.75"/><circle cx="684.2" cy="157.20" r="2.75"/><circle cx="685.7" cy="158.45" r="2.75"/><circle cx="687.1" cy="160.95" r="2.75"/><circle cx="688.5" cy="162.20" r="2.75"/><circle cx="689.9" cy="163.45" r="2.75"/><circle cx="691.3" cy="164.70" r="2.75"/><circle cx="692.8" cy="167.20" r="2.75"/><circle cx="694.2" cy="168.45" r="2.75"/><circle cx="695.6" cy="170.95" r="2.75"/><circle cx="697.0" cy="172.20" r="2.75"/><circle cx="698.4" cy="173.45" r="2.75"/><circle cx="699.8" cy="175.95" r="2.75"/><circle cx="701.3" cy="177.20" r="2.75"/><circle cx="702.7" cy="179.70" r="2.75"/><circle cx="704.1" cy="180.95" r="2.75"/><circle cx="705.5" cy="182.20" r="2.75"/><circle cx="706.9" cy="183.45" r="2.75"/><circle cx="708.4" cy="185.95" r="2.75"/><circle cx="709.8" cy="187.20" r="2.75"/><circle cx="711.2" cy="188.45" r="2.75"/><circle cx="712.6" cy="189.70" r="2.75"/><circle cx="714.0" cy="190.95" r="2.75"/><circle cx="715.4" cy="193.45" r="2.75"/><circle cx="716.9" cy="194.70" r="2.75"/><circle cx="718.3" cy="195.95" r="2.75"/><circle cx="719.7" cy="197.20" r="2.75"/><circle cx="721.1" cy="198.45" r="2.75"/><circle cx="722.5" cy="199.70" r="2.75"/><circle cx="724.0" cy="200.95" r="2.75"/><circle cx="725.4" cy="202.20" r="2.75"/><circle cx="726.8" cy="203.45" r="2.75"/><circle cx="728.2" cy="204.70" r="2.75"/><circle cx="729.6" cy="205.95" r="2.75"/><circle cx="731.1" cy="207.20" r="2.75"/><circle cx="732.5" cy="208.45" r="2.75"/><circle cx="733.9" cy="209.70" r="2.75"/><circle cx="735.3" cy="209.70" r="2.75"/><circle cx="736.7" cy="210.95" r="2.75"/><circle cx="738.1" cy="212.20" r="2.75"/><circle cx="739.6" cy="212.20" r="2.75"/><circle cx="741.0" cy="213.45" r="2.75"/><circle cx="742.4" cy="213.45" r="2.75"/><circle cx="743.8" cy="214.70" r="2.75"/><circle cx="745.2" cy="214.70" r="2.75"/><circle cx="746.7" cy="215.95" r="2.75"/><circle cx="748.1" cy="215.95" r="2.75"/><circle cx="749.5" cy="215.95" r="2.75"/><circle cx="750.9" cy="217.20" r="2.75"/><circle cx="752.3" cy="217.20" r="2.75"/><circle cx="753.7" cy="217.20" r="2.75"/><circle cx="755.2" cy="218.45" r="2.75"/><circle cx="756.6" cy="218.45" r="2.75"/><circle cx="758.0" cy="218.45" r="2.75"/><circle cx="759.4" cy="218.45" r="2.75"/><circle cx="760.8" cy="219.70" r="2.75"/><circle cx="762.3" cy="219.70" r="2.75"/><circle cx="763.7" cy="219.70" r="2.75"/><circle cx="765.1" cy="219.70" r="2.75"/><circle cx="766.5" cy="219.70" r="2.75"/><circle cx="767.9" cy="220.95" r="2.75"/><circle cx="769.4" cy="220.95" r="2.75"/><circle cx="770.8" cy="220.95" r="2.75"/><circle cx="772.2" cy="220.95" r="2.75"/><circle cx="773.6" cy="220.95" r="2.75"/><circle cx="775.0" cy="220.95" r="2.75"/><circle cx="776.4" cy="220.95" r="2.75"/><circle cx="777.9" cy="220.95" r="2.75"/><circle cx="779.3" cy="220.95" r="2.75"/><circle cx="780.7" cy="222.20" r="2.75"/><circle cx="782.1" cy="222.20" r="2.75"/><circle cx="783.5" cy="222.20" r="2.75"/><circle cx="785.0" cy="222.20" r="2.75"/><circle cx="786.4" cy="222.20" r="2.75"/><circle cx="787.8" cy="222.20" r="2.75"/><circle cx="789.2" cy="222.20" r="2.75"/><circle cx="790.6" cy="222.20" r="2.75"/><circle cx="792.0" cy="222.20" r="2.75"/><circle cx="793.5" cy="222.20" r="2.75"/><circle cx="794.9" cy="222.20" r="2.75"/><circle cx="796.3" cy="222.20" r="2.75"/><circle cx="797.7" cy="222.20" r="2.75"/><circle cx="799.1" cy="222.20" r="2.75"/><circle cx="800.6" cy="222.20" r="2.75"/><circle cx="802.0" cy="222.20" r="2.75"/><circle cx="803.4" cy="222.20" r="2.75"/><circle cx="804.8" cy="222.20" r="2.75"/><circle cx="806.2" cy="222.20" r="2.75"/><circle cx="807.7" cy="222.20" r="2.75"/><circle cx="809.1" cy="222.20" r="2.75"/><circle cx="810.5" cy="222.20" r="2.75"/><circle cx="811.9" cy="222.20" r="2.75"/><circle cx="813.3" cy="222.20" r="2.75"/><circle cx="814.7" cy="222.20" r="2.75"/><circle cx="816.2" cy="222.20" r="2.75"/><circle cx="817.6" cy="222.20" r="2.75"/><circle cx="819.0" cy="222.20" r="2.75"/><circle cx="535.3" cy="231.25" r="2.75"/><circle cx="536.7" cy="231.25" r="2.75"/><circle cx="538.1" cy="231.25" r="2.75"/><circle cx="539.6" cy="231.25" r="2.75"/><circle cx="541.0" cy="231.25" r="2.75"/><circle cx="542.4" cy="231.25" r="2.75"/><circle cx="543.8" cy="231.25" r="2.75"/><circle cx="545.2" cy="231.25" r="2.75"/><circle cx="546.6" cy="231.25" r="2.75"/><circle cx="548.1" cy="231.25" r="2.75"/><circle cx="549.5" cy="231.25" r="2.75"/><circle cx="550.9" cy="231.25" r="2.75"/><circle cx="552.3" cy="231.25" r="2.75"/><circle cx="553.7" cy="231.25" r="2.75"/><circle cx="555.2" cy="231.25" r="2.75"/><circle cx="556.6" cy="231.25" r="2.75"/><circle cx="558.0" cy="231.25" r="2.75"/><circle cx="559.4" cy="231.25" r="2.75"/><circle cx="560.8" cy="231.25" r="2.75"/><circle cx="562.3" cy="231.25" r="2.75"/><circle cx="563.7" cy="231.25" r="2.75"/><circle cx="565.1" cy="231.25" r="2.75"/><circle cx="566.5" cy="231.25" r="2.75"/><circle cx="567.9" cy="231.25" r="2.75"/><circle cx="569.3" cy="231.25" r="2.75"/><circle cx="570.8" cy="231.25" r="2.75"/><circle cx="572.2" cy="231.25" r="2.75"/><circle cx="573.6" cy="232.50" r="2.75"/><circle cx="575.0" cy="232.50" r="2.75"/><circle cx="576.4" cy="232.50" r="2.75"/><circle cx="577.9" cy="232.50" r="2.75"/><circle cx="579.3" cy="232.50" r="2.75"/><circle cx="580.7" cy="232.50" r="2.75"/><circle cx="582.1" cy="232.50" r="2.75"/><circle cx="583.5" cy="232.50" r="2.75"/><circle cx="584.9" cy="232.50" r="2.75"/><circle cx="586.4" cy="233.75" r="2.75"/><circle cx="587.8" cy="233.75" r="2.75"/><circle cx="589.2" cy="233.75" r="2.75"/><circle cx="590.6" cy="233.75" r="2.75"/><circle cx="592.0" cy="233.75" r="2.75"/><circle cx="593.5" cy="235.00" r="2.75"/><circle cx="594.9" cy="235.00" r="2.75"/><circle cx="596.3" cy="235.00" r="2.75"/><circle cx="597.7" cy="235.00" r="2.75"/><circle cx="599.1" cy="235.00" r="2.75"/><circle cx="600.6" cy="235.00" r="2.75"/><circle cx="602.0" cy="235.00" r="2.75"/><circle cx="603.4" cy="236.25" r="2.75"/><circle cx="604.8" cy="236.25" r="2.75"/><circle cx="606.2" cy="236.25" r="2.75"/><circle cx="607.6" cy="236.25" r="2.75"/><circle cx="609.1" cy="237.50" r="2.75"/><circle cx="610.5" cy="237.50" r="2.75"/><circle cx="611.9" cy="237.50" r="2.75"/><circle cx="613.3" cy="237.50" r="2.75"/><circle cx="614.7" cy="237.50" r="2.75"/><circle cx="616.2" cy="237.50" r="2.75"/><circle cx="617.6" cy="237.50" r="2.75"/><circle cx="619.0" cy="237.50" r="2.75"/><circle cx="620.4" cy="236.25" r="2.75"/><circle cx="621.8" cy="236.25" r="2.75"/><circle cx="623.2" cy="236.25" r="2.75"/><circle cx="624.7" cy="236.25" r="2.75"/><circle cx="626.1" cy="235.00" r="2.75"/><circle cx="627.5" cy="235.00" r="2.75"/><circle cx="628.9" cy="233.75" r="2.75"/><circle cx="630.3" cy="233.75" r="2.75"/><circle cx="631.8" cy="232.50" r="2.75"/><circle cx="633.2" cy="232.50" r="2.75"/><circle cx="634.6" cy="231.25" r="2.75"/><circle cx="636.0" cy="230.00" r="2.75"/><circle cx="637.4" cy="230.00" r="2.75"/><circle cx="638.9" cy="228.75" r="2.75"/><circle cx="640.3" cy="227.50" r="2.75"/><circle cx="641.7" cy="227.50" r="2.75"/><circle cx="643.1" cy="226.25" r="2.75"/><circle cx="644.5" cy="225.00" r="2.75"/><circle cx="645.9" cy="223.75" r="2.75"/><circle cx="647.4" cy="223.75" r="2.75"/><circle cx="648.8" cy="222.50" r="2.75"/><circle cx="650.2" cy="221.25" r="2.75"/><circle cx="651.6" cy="220.00" r="2.75"/><circle cx="653.0" cy="218.75" r="2.75"/><circle cx="654.5" cy="217.50" r="2.75"/><circle cx="655.9" cy="217.50" r="2.75"/><circle cx="657.3" cy="216.25" r="2.75"/><circle cx="658.7" cy="215.00" r="2.75"/><circle cx="660.1" cy="213.75" r="2.75"/><circle cx="661.5" cy="212.50" r="2.75"/><circle cx="663.0" cy="211.25" r="2.75"/><circle cx="664.4" cy="210.00" r="2.75"/><circle cx="665.8" cy="208.75" r="2.75"/><circle cx="667.2" cy="207.50" r="2.75"/><circle cx="668.6" cy="206.25" r="2.75"/><circle cx="670.1" cy="205.00" r="2.75"/><circle cx="671.5" cy="205.00" r="2.75"/><circle cx="672.9" cy="203.75" r="2.75"/><circle cx="674.3" cy="203.75" r="2.75"/><circle cx="675.7" cy="203.75" r="2.75"/><circle cx="677.1" cy="203.75" r="2.75"/><circle cx="678.6" cy="203.75" r="2.75"/><circle cx="680.0" cy="203.75" r="2.75"/><circle cx="681.4" cy="203.75" r="2.75"/><circle cx="682.8" cy="205.00" r="2.75"/><circle cx="684.2" cy="206.25" r="2.75"/><circle cx="685.7" cy="206.25" r="2.75"/><circle cx="687.1" cy="207.50" r="2.75"/><circle cx="688.5" cy="208.75" r="2.75"/><circle cx="689.9" cy="210.00" r="2.75"/><circle cx="691.3" cy="211.25" r="2.75"/><circle cx="692.8" cy="212.50" r="2.75"/><circle cx="694.2" cy="213.75" r="2.75"/><circle cx="695.6" cy="215.00" r="2.75"/><circle cx="697.0" cy="216.25" r="2.75"/><circle cx="698.4" cy="217.50" r="2.75"/><circle cx="699.8" cy="218.75" r="2.75"/><circle cx="701.3" cy="220.00" r="2.75"/><circle cx="702.7" cy="220.00" r="2.75"/><circle cx="704.1" cy="221.25" r="2.75"/><circle cx="705.5" cy="222.50" r="2.75"/><circle cx="706.9" cy="223.75" r="2.75"/><circle cx="708.4" cy="225.00" r="2.75"/><circle cx="709.8" cy="225.00" r="2.75"/><circle cx="711.2" cy="226.25" r="2.75"/><circle cx="712.6" cy="227.50" r="2.75"/><circle cx="714.0" cy="227.50" r="2.75"/><circle cx="715.4" cy="228.75" r="2.75"/><circle cx="716.9" cy="230.00" r="2.75"/><circle cx="718.3" cy="231.25" r="2.75"/><circle cx="719.7" cy="231.25" r="2.75"/><circle cx="721.1" cy="232.50" r="2.75"/><circle cx="722.5" cy="232.50" r="2.75"/><circle cx="724.0" cy="233.75" r="2.75"/><circle cx="725.4" cy="233.75" r="2.75"/><circle cx="726.8" cy="235.00" r="2.75"/><circle cx="728.2" cy="235.00" r="2.75"/><circle cx="729.6" cy="236.25" r="2.75"/><circle cx="731.1" cy="236.25" r="2.75"/><circle cx="732.5" cy="236.25" r="2.75"/><circle cx="733.9" cy="237.50" r="2.75"/><circle cx="735.3" cy="237.50" r="2.75"/><circle cx="736.7" cy="237.50" r="2.75"/><circle cx="738.1" cy="237.50" r="2.75"/><circle cx="739.6" cy="237.50" r="2.75"/><circle cx="741.0" cy="237.50" r="2.75"/><circle cx="742.4" cy="237.50" r="2.75"/><circle cx="743.8" cy="237.50" r="2.75"/><circle cx="745.2" cy="237.50" r="2.75"/><circle cx="746.7" cy="236.25" r="2.75"/><circle cx="748.1" cy="236.25" r="2.75"/><circle cx="749.5" cy="236.25" r="2.75"/><circle cx="750.9" cy="236.25" r="2.75"/><circle cx="752.3" cy="235.00" r="2.75"/><circle cx="753.7" cy="235.00" r="2.75"/><circle cx="755.2" cy="235.00" r="2.75"/><circle cx="756.6" cy="235.00" r="2.75"/><circle cx="758.0" cy="235.00" r="2.75"/><circle cx="759.4" cy="235.00" r="2.75"/><circle cx="760.8" cy="235.00" r="2.75"/><circle cx="762.3" cy="233.75" r="2.75"/><circle cx="763.7" cy="233.75" r="2.75"/><circle cx="765.1" cy="233.75" r="2.75"/><circle cx="766.5" cy="233.75" r="2.75"/><circle cx="767.9" cy="233.75" r="2.75"/><circle cx="769.4" cy="232.50" r="2.75"/><circle cx="770.8" cy="232.50" r="2.75"/><circle cx="772.2" cy="232.50" r="2.75"/><circle cx="773.6" cy="232.50" r="2.75"/><circle cx="775.0" cy="232.50" r="2.75"/><circle cx="776.4" cy="232.50" r="2.75"/><circle cx="777.9" cy="232.50" r="2.75"/><circle cx="779.3" cy="232.50" r="2.75"/><circle cx="780.7" cy="232.50" r="2.75"/><circle cx="782.1" cy="231.25" r="2.75"/><circle cx="783.5" cy="231.25" r="2.75"/><circle cx="785.0" cy="231.25" r="2.75"/><circle cx="786.4" cy="231.25" r="2.75"/><circle cx="787.8" cy="231.25" r="2.75"/><circle cx="789.2" cy="231.25" r="2.75"/><circle cx="790.6" cy="231.25" r="2.75"/><circle cx="792.0" cy="231.25" r="2.75"/><circle cx="793.5" cy="231.25" r="2.75"/><circle cx="794.9" cy="231.25" r="2.75"/><circle cx="796.3" cy="231.25" r="2.75"/><circle cx="797.7" cy="231.25" r="2.75"/><circle cx="799.1" cy="231.25" r="2.75"/><circle cx="800.6" cy="231.25" r="2.75"/><circle cx="802.0" cy="231.25" r="2.75"/><circle cx="803.4" cy="231.25" r="2.75"/><circle cx="804.8" cy="231.25" r="2.75"/><circle cx="806.2" cy="231.25" r="2.75"/><circle cx="807.7" cy="231.25" r="2.75"/><circle cx="809.1" cy="231.25" r="2.75"/><circle cx="810.5" cy="231.25" r="2.75"/><circle cx="811.9" cy="231.25" r="2.75"/><circle cx="813.3" cy="231.25" r="2.75"/><circle cx="814.7" cy="231.25" r="2.75"/><circle cx="816.2" cy="231.25" r="2.75"/><circle cx="817.6" cy="231.25" r="2.75"/><circle cx="819.0" cy="231.25" r="2.75"/></g>
<path d="M516.40,75.20 H513.99 V59.85 Q513.12,60.68 511.71,61.51 Q510.30,62.34 509.18,62.76 V60.43 Q511.20,59.48 512.71,58.13 Q514.22,56.78 514.85,55.51 H516.40 Z" fill="#646464"/>
<text transform="translate(485.72,154.70) scale(0.9383,1)" font-family="Liberation Sans, sans-serif" font-size="28.8" fill="#646464">0.5</text>
<text x="505.40" y="237.20" font-family="Liberation Sans, sans-serif" font-size="28.8" fill="#646464">0</text>
<g transform="translate(475.7,173.6) rotate(-90)">
<text transform="translate(-0.37,0.00) scale(0.9960,1)" font-family="Liberation Serif, serif" font-style="italic" font-size="25.5" fill="#2a2a2a">ϕ</text>
<text transform="translate(15.40,5.20) scale(1.0265,1)" font-family="Liberation Serif, serif" font-size="33" fill="#2a2a2a">/</text>
<text transform="translate(26.58,0.90) scale(1.0083,1)" font-family="Liberation Serif, serif" font-size="28.5" fill="#2a2a2a">(</text>
<text transform="translate(35.28,0.00) scale(1.0793,1)" font-family="Liberation Serif, serif" font-size="24.4" fill="#2a2a2a">2</text>
<text transform="translate(50.09,0.00) scale(0.8597,1)" font-family="Liberation Serif, serif" font-style="italic" font-size="25.5" fill="#2a2a2a">π</text>
<text transform="translate(62.32,0.90) scale(0.9538,1)" font-family="Liberation Serif, serif" font-size="28.5" fill="#2a2a2a">)</text>
</g>
<text transform="translate(527.14,264.80) scale(1.0423,1)" font-family="Liberation Serif, serif" font-style="italic" font-size="25.8" fill="#111">M</text>
<text transform="translate(804.53,264.80) scale(1.0119,1)" font-family="Liberation Serif, serif" font-style="italic" font-size="25.8" fill="#111">M</text>
<text transform="translate(669.98,265.00) scale(1.1446,1)" font-family="Liberation Serif, serif" font-size="26" fill="#111">Γ</text>
<text x="411.61" y="38.80" font-family="Liberation Sans, sans-serif" font-size="30.3" fill="#000">(b)</text>
<rect x="82.5" y="374.2" width="287.5" height="177.3" fill="none" stroke="#6e6e6e" stroke-width="0.9"/>
<path d="M108.5,551.5 v-3.2 M108.5,374.2 v3.2 M213.0,551.5 v-3.2 M213.0,374.2 v3.2 M343.7,551.5 v-3.2 M343.7,374.2 v3.2 M82.5,462.9 h3.2 M370.0,462.9 h-3.2" stroke="#6e6e6e" stroke-width="0.9" fill="none"/>
<g fill="none" stroke="#ff0000" stroke-width="2.5"><circle cx="108.5" cy="462.9" r="4.0"/><circle cx="134.6" cy="462.9" r="4.0"/><circle cx="160.8" cy="462.9" r="4.0"/><circle cx="186.9" cy="462.9" r="4.0"/><circle cx="213.0" cy="462.9" r="4.0"/><circle cx="239.2" cy="462.9" r="4.0"/><circle cx="265.3" cy="462.9" r="4.0"/><circle cx="291.4" cy="462.9" r="4.0"/><circle cx="317.5" cy="462.9" r="4.0"/><circle cx="343.7" cy="462.9" r="4.0"/></g>
<path d="M108.5,462.9 L134.6,462.9 L160.8,462.9 L186.9,462.9 L213.0,462.9 L239.2,462.9 L265.3,462.9 L291.4,462.9 L317.5,462.9 L343.7,462.9" stroke="#808080" stroke-width="2.2" fill="none" stroke-linejoin="round"/>
<path d="M106.8,375.5 V551.8 M161.8,376.0 V551.8 M292.2,379.0 V551.8 M347.3,375.7 V551.8 " stroke="#000" stroke-width="1.45" stroke-dasharray="4.85 3.68" fill="none"/>
<path d="M107.8,374.59999999999997 V370.40000000000003 Q107.8,367.8 110.39999999999999,367.8 H132.5 Q134.39999999999998,367.8 134.7,360.1 Q135.0,367.8 136.89999999999998,367.8 H159.0 Q161.6,367.8 161.6,370.40000000000003 V374.59999999999997" stroke="#000" stroke-width="1.45" fill="none" stroke-linejoin="round"/>
<path d="M292.3,374.59999999999997 V370.40000000000003 Q292.3,367.8 294.90000000000003,367.8 H317.6 Q319.5,367.8 319.8,360.1 Q320.1,367.8 322.0,367.8 H344.7 Q347.3,367.8 347.3,370.40000000000003 V374.59999999999997" stroke="#000" stroke-width="1.45" fill="none" stroke-linejoin="round"/>
<rect x="529.5" y="374.2" width="288.70000000000005" height="178.00000000000006" fill="none" stroke="#6e6e6e" stroke-width="0.9"/>
<path d="M555.7,552.2 v-3.2 M555.7,374.2 v3.2 M660.5,552.2 v-3.2 M660.5,374.2 v3.2 M791.5,552.2 v-3.2 M791.5,374.2 v3.2 M529.5,463.2 h3.2 M818.2,463.2 h-3.2" stroke="#6e6e6e" stroke-width="0.9" fill="none"/>
<g fill="none" stroke="#ff0000" stroke-width="2.5"><circle cx="555.7" cy="537.5" r="4.0"/><circle cx="581.9" cy="476.1" r="4.0"/><circle cx="608.1" cy="465.9" r="4.0"/><circle cx="634.3" cy="464.1" r="4.0"/><circle cx="660.5" cy="463.6" r="4.0"/><circle cx="686.7" cy="463.6" r="4.0"/><circle cx="712.9" cy="463.2" r="4.0"/><circle cx="739.1" cy="461.9" r="4.0"/><circle cx="765.3" cy="450.7" r="4.0"/><circle cx="791.5" cy="390.2" r="4.0"/></g>
<path d="M555.7,537.5 L581.9,476.1 L608.1,465.9 L634.3,464.1 L660.5,463.6 L686.7,463.6 L712.9,463.2 L739.1,461.9 L765.3,450.7 L791.5,390.2" stroke="#808080" stroke-width="2.2" fill="none" stroke-linejoin="round"/>
<path d="M555.9,373.9 V552.5 M609.8,373.9 V552.5 M740.2,377.5 V552.5 M795.3,374.5 V552.5 " stroke="#000" stroke-width="1.45" stroke-dasharray="4.85 3.68" fill="none"/>
<path d="M555.9,374.59999999999997 V368.40000000000003 Q555.9,365.8 558.5,365.8 H580.6499999999999 Q582.55,365.8 582.8499999999999,358.1 Q583.1499999999999,365.8 585.05,365.8 H607.1999999999999 Q609.8,365.8 609.8,368.40000000000003 V374.59999999999997" stroke="#000" stroke-width="1.45" fill="none" stroke-linejoin="round"/>
<path d="M740.2,374.59999999999997 V368.40000000000003 Q740.2,365.8 742.8000000000001,365.8 H765.5 Q767.4000000000001,365.8 767.7,358.1 Q768.0,365.8 769.9000000000001,365.8 H792.6 Q795.2,365.8 795.2,368.40000000000003 V374.59999999999997" stroke="#000" stroke-width="1.45" fill="none" stroke-linejoin="round"/>
<path d="M114.00,342.14 A8.72,9.36 0 1 0 131.44,342.14 A8.72,9.36 0 1 0 114.00,342.14Z M116.38,342.14 A6.34,7.28 0 1 1 129.06,342.14 A6.34,7.28 0 1 1 116.38,342.14Z" fill="#000" fill-rule="evenodd"/>
<path d="M123.44,346.98 L131.34,351.90" stroke="#000" stroke-width="1.96" fill="none"/>
<text x="132.42" y="351.20" font-family="Liberation Sans, sans-serif" font-size="25.1" fill="#000">=3</text>
<path d="M298.80,343.64 A8.72,9.36 0 1 0 316.24,343.64 A8.72,9.36 0 1 0 298.80,343.64Z M301.18,343.64 A6.34,7.28 0 1 1 313.86,343.64 A6.34,7.28 0 1 1 301.18,343.64Z" fill="#000" fill-rule="evenodd"/>
<path d="M308.24,348.48 L316.14,353.40" stroke="#000" stroke-width="1.96" fill="none"/>
<text x="317.22" y="352.70" font-family="Liberation Sans, sans-serif" font-size="25.1" fill="#000">=3</text>
<path d="M562.00,340.44 A8.72,9.36 0 1 0 579.44,340.44 A8.72,9.36 0 1 0 562.00,340.44Z M564.38,340.44 A6.34,7.28 0 1 1 577.06,340.44 A6.34,7.28 0 1 1 564.38,340.44Z" fill="#000" fill-rule="evenodd"/>
<path d="M571.44,345.28 L579.34,350.20" stroke="#000" stroke-width="1.96" fill="none"/>
<text x="580.42" y="349.50" font-family="Liberation Sans, sans-serif" font-size="25.1" fill="#000">=2</text>
<path d="M747.20,341.74 A8.72,9.36 0 1 0 764.64,341.74 A8.72,9.36 0 1 0 747.20,341.74Z M749.58,341.74 A6.34,7.28 0 1 1 762.26,341.74 A6.34,7.28 0 1 1 749.58,341.74Z" fill="#000" fill-rule="evenodd"/>
<path d="M756.64,346.58 L764.54,351.50" stroke="#000" stroke-width="1.96" fill="none"/>
<text x="765.62" y="350.80" font-family="Liberation Sans, sans-serif" font-size="25.1" fill="#000">=4</text>
<text x="17.62" y="320.30" font-family="Liberation Sans, sans-serif" font-size="30" fill="#000">(c)</text>
<text x="196.73" y="321.20" font-family="Liberation Sans, sans-serif" font-size="29.5" fill="#000">At</text>
<text transform="translate(235.16,321.00) scale(1.0045,1)" font-family="Liberation Serif, serif" font-style="italic" font-size="29" fill="#3a3a3a">M</text>
<text x="640.73" y="321.20" font-family="Liberation Sans, sans-serif" font-size="29.5" fill="#000">At</text>
<text transform="translate(677.40,321.00) scale(0.9826,1)" font-family="Liberation Serif, serif" font-size="29.5" fill="#3a3a3a">Γ</text>
<text x="55.66" y="386.60" font-family="Liberation Sans, sans-serif" font-size="28.8" fill="#646464">2</text>
<path d="M65.70,475.70 H63.17 V459.57 Q62.25,460.44 60.77,461.31 Q59.29,462.19 58.11,462.62 V460.18 Q60.23,459.18 61.82,457.76 Q63.41,456.34 64.07,455.00 H65.70 Z" fill="#646464"/>
<text x="57.30" y="559.50" font-family="Liberation Sans, sans-serif" font-size="28.8" fill="#646464">0</text>
<path d="M29.30,464.90 A10.25,11.00 0 1 0 49.80,464.90 A10.25,11.00 0 1 0 29.30,464.90Z M32.10,464.90 A7.45,8.55 0 1 1 47.00,464.90 A7.45,8.55 0 1 1 32.10,464.90Z" fill="#000" fill-rule="evenodd"/>
<path d="M40.39,470.59 L49.68,476.38" stroke="#000" stroke-width="2.30" fill="none"/>
<text x="503.96" y="383.80" font-family="Liberation Sans, sans-serif" font-size="28.8" fill="#646464">2</text>
<path d="M513.80,473.50 H511.27 V457.37 Q510.35,458.24 508.87,459.11 Q507.39,459.99 506.21,460.42 V457.98 Q508.33,456.98 509.92,455.56 Q511.51,454.14 512.17,452.80 H513.80 Z" fill="#646464"/>
<text x="505.30" y="557.30" font-family="Liberation Sans, sans-serif" font-size="28.8" fill="#646464">0</text>
<path d="M477.30,462.90 A10.25,11.00 0 1 0 497.80,462.90 A10.25,11.00 0 1 0 477.30,462.90Z M480.10,462.90 A7.45,8.55 0 1 1 495.00,462.90 A7.45,8.55 0 1 1 480.10,462.90Z" fill="#000" fill-rule="evenodd"/>
<path d="M488.39,468.59 L497.68,474.38" stroke="#000" stroke-width="2.30" fill="none"/>
<path d="M108.70,583.20 H106.17 V567.07 Q105.25,567.94 103.77,568.81 Q102.29,569.69 101.11,570.12 V567.68 Q103.23,566.68 104.82,565.26 Q106.41,563.84 107.07,562.50 H108.70 Z" fill="#646464"/>
<text x="347.80" y="584.30" font-family="Liberation Sans, sans-serif" font-size="28.8" fill="#646464">0</text>
<path d="M342.51,584.30 H339.98 V568.17 Q339.07,569.04 337.58,569.91 Q336.10,570.79 334.92,571.22 V568.77 Q337.04,567.78 338.63,566.36 Q340.22,564.94 340.88,563.60 H342.51 Z" fill="#646464"/>
<path d="M556.90,580.70 H554.37 V564.57 Q553.45,565.44 551.97,566.31 Q550.49,567.19 549.31,567.62 V565.18 Q551.43,564.18 553.02,562.76 Q554.61,561.34 555.27,560.00 H556.90 Z" fill="#646464"/>
<text x="796.40" y="581.80" font-family="Liberation Sans, sans-serif" font-size="28.8" fill="#646464">0</text>
<path d="M791.11,581.80 H788.58 V565.67 Q787.67,566.54 786.18,567.41 Q784.70,568.29 783.52,568.72 V566.27 Q785.64,565.28 787.23,563.86 Q788.82,562.44 789.48,561.10 H791.11 Z" fill="#646464"/>
<text transform="translate(218.57,591.70) scale(1.0937,1)" font-family="Liberation Serif, serif" font-style="italic" font-size="42" fill="#111">z</text>
<text transform="translate(666.57,594.20) scale(1.0937,1)" font-family="Liberation Serif, serif" font-style="italic" font-size="42" fill="#111">z</text>
<text transform="translate(403.05,504.80) scale(1.0071,1)" font-family="Liberation Sans, sans-serif" font-size="29.5" fill="#000">Pump</text>
<path d="M392.7,512.8 Q438.4,531.6 474.5,517.5" stroke="#000" stroke-width="3.3" fill="none"/>
<path d="M483.4,513.8 L471.6,513.0 L476.0,523.0 Z" fill="#000"/>
</svg>
</body></html>
